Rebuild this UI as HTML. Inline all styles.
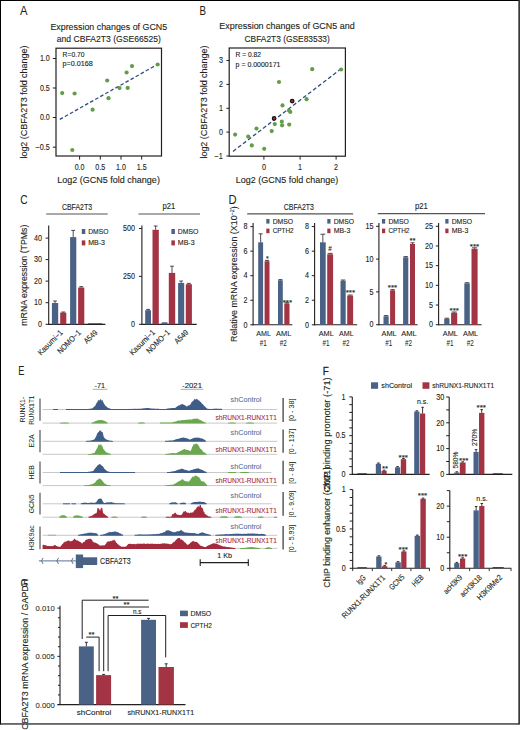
<!DOCTYPE html>
<html><head><meta charset="utf-8"><style>
html,body{margin:0;padding:0;background:#fff;}
svg{display:block;}
text{font-family:"Liberation Sans", sans-serif;}
</style></head><body>
<svg width="520" height="730" viewBox="0 0 520 730" fill="#231f20" font-family='"Liberation Sans", sans-serif'>
<rect x="0" y="0" width="520" height="730" fill="#fff"/>
<text x="20" y="15.2" font-size="12.2" stroke="#231f20" stroke-width="0.05" textLength="7.5" lengthAdjust="spacingAndGlyphs">A</text>
<text x="108.8" y="29.8" font-size="9.6" stroke="#231f20" stroke-width="0.12" text-anchor="middle" textLength="116.8" lengthAdjust="spacingAndGlyphs">Expression changes of GCN5</text>
<text x="108.9" y="41.5" font-size="9.6" stroke="#231f20" stroke-width="0.12" text-anchor="middle" textLength="104.2" lengthAdjust="spacingAndGlyphs">and CBFA2T3 (GSE66525)</text>
<rect x="56" y="48.2" width="105.5" height="107.8" fill="none" stroke="#231f20" stroke-width="1.2"/>
<line x1="52.8" y1="58.5" x2="56" y2="58.5" stroke="#231f20" stroke-width="1"/>
<text x="49.8" y="61.2" font-size="8.4" stroke="#231f20" stroke-width="0.12" text-anchor="end" textLength="9.9" lengthAdjust="spacingAndGlyphs">1.0</text>
<line x1="52.8" y1="88" x2="56" y2="88" stroke="#231f20" stroke-width="1"/>
<text x="49.8" y="90.7" font-size="8.4" stroke="#231f20" stroke-width="0.12" text-anchor="end" textLength="9.9" lengthAdjust="spacingAndGlyphs">0.5</text>
<line x1="52.8" y1="117.5" x2="56" y2="117.5" stroke="#231f20" stroke-width="1"/>
<text x="49.8" y="120.2" font-size="8.4" stroke="#231f20" stroke-width="0.12" text-anchor="end" textLength="9.9" lengthAdjust="spacingAndGlyphs">0.0</text>
<line x1="52.8" y1="147.2" x2="56" y2="147.2" stroke="#231f20" stroke-width="1"/>
<text x="49.8" y="149.9" font-size="8.4" stroke="#231f20" stroke-width="0.12" text-anchor="end" textLength="14.2" lengthAdjust="spacingAndGlyphs">−0.5</text>
<line x1="79.6" y1="156" x2="79.6" y2="159.6" stroke="#231f20" stroke-width="1"/>
<text x="79.6" y="169.8" font-size="8.4" stroke="#231f20" stroke-width="0.12" text-anchor="middle" textLength="9.9" lengthAdjust="spacingAndGlyphs">0.0</text>
<line x1="100.3" y1="156" x2="100.3" y2="159.6" stroke="#231f20" stroke-width="1"/>
<text x="100.3" y="169.8" font-size="8.4" stroke="#231f20" stroke-width="0.12" text-anchor="middle" textLength="9.9" lengthAdjust="spacingAndGlyphs">0.5</text>
<line x1="121" y1="156" x2="121" y2="159.6" stroke="#231f20" stroke-width="1"/>
<text x="121" y="169.8" font-size="8.4" stroke="#231f20" stroke-width="0.12" text-anchor="middle" textLength="9.9" lengthAdjust="spacingAndGlyphs">1.0</text>
<line x1="141.7" y1="156" x2="141.7" y2="159.6" stroke="#231f20" stroke-width="1"/>
<text x="141.7" y="169.8" font-size="8.4" stroke="#231f20" stroke-width="0.12" text-anchor="middle" textLength="9.9" lengthAdjust="spacingAndGlyphs">1.5</text>
<text x="108.55" y="183.2" font-size="9" stroke="#231f20" stroke-width="0.12" text-anchor="middle" textLength="102.7" lengthAdjust="spacingAndGlyphs">Log2 (GCN5 fold change)</text>
<text transform="translate(26.9,102.05) rotate(-90)" font-size="9" stroke="#231f20" stroke-width="0.12" text-anchor="middle" textLength="113.1" lengthAdjust="spacingAndGlyphs">log2 (CBFA2T3 fold change)</text>
<text x="62.6" y="57.1" font-size="6.6" stroke="#231f20" stroke-width="0.12" textLength="21.9" lengthAdjust="spacingAndGlyphs">R=0.70</text>
<text x="62.6" y="66.3" font-size="6.6" stroke="#231f20" stroke-width="0.12" textLength="30.2" lengthAdjust="spacingAndGlyphs">p=0.0168</text>
<line x1="59.8" y1="119.4" x2="157" y2="64.7" stroke="#2f4d7e" stroke-width="1.3" stroke-dasharray="3.6 2.2"/>
<circle cx="62.2" cy="93.1" r="2.1" fill="#629e48"/>
<circle cx="74.6" cy="93.5" r="2.1" fill="#629e48"/>
<circle cx="92.6" cy="109.7" r="2.1" fill="#629e48"/>
<circle cx="107.2" cy="80.5" r="2.1" fill="#629e48"/>
<circle cx="108.5" cy="98.2" r="2.1" fill="#629e48"/>
<circle cx="119.5" cy="88.1" r="2.1" fill="#629e48"/>
<circle cx="127.7" cy="87.9" r="2.1" fill="#629e48"/>
<circle cx="126.6" cy="72.5" r="2.1" fill="#629e48"/>
<circle cx="132" cy="66.1" r="2.1" fill="#629e48"/>
<circle cx="157.7" cy="64.5" r="2.1" fill="#629e48"/>
<circle cx="72.3" cy="150" r="2.1" fill="#629e48"/>
<text x="199.6" y="14.9" font-size="12.2" stroke="#231f20" stroke-width="0.05" textLength="6.5" lengthAdjust="spacingAndGlyphs">B</text>
<text x="287" y="29.4" font-size="9.6" stroke="#231f20" stroke-width="0.12" text-anchor="middle" textLength="135.4" lengthAdjust="spacingAndGlyphs">Expression changes of GCN5 and</text>
<text x="287.15" y="41.5" font-size="9.6" stroke="#231f20" stroke-width="0.12" text-anchor="middle" textLength="85.3" lengthAdjust="spacingAndGlyphs">CBFA2T3 (GSE83533)</text>
<rect x="229.2" y="48" width="116.2" height="108.2" fill="none" stroke="#231f20" stroke-width="1.2"/>
<line x1="226.4" y1="60.5" x2="229.2" y2="60.5" stroke="#231f20" stroke-width="1"/>
<text x="222.9" y="63.2" font-size="8.4" stroke="#231f20" stroke-width="0.12" text-anchor="end" textLength="4" lengthAdjust="spacingAndGlyphs">3</text>
<line x1="226.4" y1="84.4" x2="229.2" y2="84.4" stroke="#231f20" stroke-width="1"/>
<text x="222.9" y="87.1" font-size="8.4" stroke="#231f20" stroke-width="0.12" text-anchor="end" textLength="4" lengthAdjust="spacingAndGlyphs">2</text>
<line x1="226.4" y1="108.3" x2="229.2" y2="108.3" stroke="#231f20" stroke-width="1"/>
<text x="222.9" y="111" font-size="8.4" stroke="#231f20" stroke-width="0.12" text-anchor="end" textLength="4" lengthAdjust="spacingAndGlyphs">1</text>
<line x1="226.4" y1="132.1" x2="229.2" y2="132.1" stroke="#231f20" stroke-width="1"/>
<text x="222.9" y="134.8" font-size="8.4" stroke="#231f20" stroke-width="0.12" text-anchor="end" textLength="4" lengthAdjust="spacingAndGlyphs">0</text>
<line x1="226.4" y1="156" x2="229.2" y2="156" stroke="#231f20" stroke-width="1"/>
<text x="222.9" y="158.7" font-size="8.4" stroke="#231f20" stroke-width="0.12" text-anchor="end" textLength="8.3" lengthAdjust="spacingAndGlyphs">−1</text>
<line x1="263.9" y1="156.2" x2="263.9" y2="159.6" stroke="#231f20" stroke-width="1"/>
<text x="263.9" y="170.2" font-size="8.4" stroke="#231f20" stroke-width="0.12" text-anchor="middle" textLength="4" lengthAdjust="spacingAndGlyphs">0</text>
<line x1="300.1" y1="156.2" x2="300.1" y2="159.6" stroke="#231f20" stroke-width="1"/>
<text x="300.1" y="170.2" font-size="8.4" stroke="#231f20" stroke-width="0.12" text-anchor="middle" textLength="4" lengthAdjust="spacingAndGlyphs">1</text>
<line x1="336.1" y1="156.2" x2="336.1" y2="159.6" stroke="#231f20" stroke-width="1"/>
<text x="336.1" y="170.2" font-size="8.4" stroke="#231f20" stroke-width="0.12" text-anchor="middle" textLength="4" lengthAdjust="spacingAndGlyphs">2</text>
<text x="287.05" y="183.2" font-size="9" stroke="#231f20" stroke-width="0.12" text-anchor="middle" textLength="102.5" lengthAdjust="spacingAndGlyphs">Log2 (GCN5 fold change)</text>
<text transform="translate(206.6,102.05) rotate(-90)" font-size="9" stroke="#231f20" stroke-width="0.12" text-anchor="middle" textLength="113.1" lengthAdjust="spacingAndGlyphs">log2 (CBFA2T3 fold change)</text>
<text x="235.6" y="57.2" font-size="6.6" stroke="#231f20" stroke-width="0.12" textLength="25.4" lengthAdjust="spacingAndGlyphs">R = 0.82</text>
<text x="235.6" y="66.5" font-size="6.6" stroke="#231f20" stroke-width="0.12" textLength="44.8" lengthAdjust="spacingAndGlyphs">p = 0.0000171</text>
<line x1="233.0" y1="151.4" x2="339.8" y2="69.8" stroke="#2f4d7e" stroke-width="1.3" stroke-dasharray="3.9 2.4"/>
<circle cx="235.1" cy="134.6" r="2.1" fill="#629e48"/>
<circle cx="248.2" cy="136.6" r="2.1" fill="#629e48"/>
<circle cx="251.8" cy="145.4" r="2.1" fill="#629e48"/>
<circle cx="256.5" cy="128.6" r="2.1" fill="#629e48"/>
<circle cx="264.2" cy="148.8" r="2.1" fill="#629e48"/>
<circle cx="271.7" cy="131.1" r="2.1" fill="#629e48"/>
<circle cx="274.8" cy="124.1" r="2.1" fill="#629e48"/>
<circle cx="281.8" cy="121.7" r="2.1" fill="#629e48"/>
<circle cx="282.1" cy="125.3" r="2.1" fill="#629e48"/>
<circle cx="289.2" cy="124.6" r="2.1" fill="#629e48"/>
<circle cx="282.5" cy="105.4" r="2.1" fill="#629e48"/>
<circle cx="289" cy="110.5" r="2.1" fill="#629e48"/>
<circle cx="290.3" cy="112" r="2.1" fill="#629e48"/>
<circle cx="279" cy="82" r="2.1" fill="#629e48"/>
<circle cx="306.6" cy="99.2" r="2.1" fill="#629e48"/>
<circle cx="312.2" cy="69.2" r="2.1" fill="#629e48"/>
<circle cx="341.1" cy="69.5" r="2.1" fill="#629e48"/>
<circle cx="274.1" cy="118.4" r="1.75" fill="#c41e3a" stroke="#111" stroke-width="1.2"/>
<circle cx="292.2" cy="101.1" r="1.75" fill="#c41e3a" stroke="#111" stroke-width="1.2"/>
<text x="20.2" y="204.4" font-size="12.2" stroke="#231f20" stroke-width="0.05" textLength="7.4" lengthAdjust="spacingAndGlyphs">C</text>
<text x="77" y="209.6" font-size="8.2" stroke="#231f20" stroke-width="0.12" text-anchor="middle" textLength="30.2" lengthAdjust="spacingAndGlyphs">CBFA2T3</text>
<line x1="46.2" y1="214" x2="107.7" y2="214" stroke="#555" stroke-width="1.2"/>
<text x="168.85" y="209.3" font-size="8.2" stroke="#231f20" stroke-width="0.12" text-anchor="middle" textLength="12.7" lengthAdjust="spacingAndGlyphs">p21</text>
<line x1="138.5" y1="214" x2="200" y2="214" stroke="#555" stroke-width="1.2"/>
<text transform="translate(26.5,275.2) rotate(-90)" font-size="9" stroke="#231f20" stroke-width="0.12" text-anchor="middle" textLength="101" lengthAdjust="spacingAndGlyphs">mRNA expression (TPMs)</text>
<line x1="48.7" y1="225.6" x2="48.7" y2="324.9" stroke="#231f20" stroke-width="1.1"/>
<line x1="48.2" y1="324.4" x2="105.4" y2="324.4" stroke="#231f20" stroke-width="1.1"/>
<line x1="45.6" y1="238.1" x2="48.7" y2="238.1" stroke="#231f20" stroke-width="1"/>
<text x="42.1" y="240.8" font-size="8.4" stroke="#231f20" stroke-width="0.12" text-anchor="end" textLength="8" lengthAdjust="spacingAndGlyphs">40</text>
<line x1="45.6" y1="259.6" x2="48.7" y2="259.6" stroke="#231f20" stroke-width="1"/>
<text x="42.1" y="262.3" font-size="8.4" stroke="#231f20" stroke-width="0.12" text-anchor="end" textLength="8" lengthAdjust="spacingAndGlyphs">30</text>
<line x1="45.6" y1="281.1" x2="48.7" y2="281.1" stroke="#231f20" stroke-width="1"/>
<text x="42.1" y="283.8" font-size="8.4" stroke="#231f20" stroke-width="0.12" text-anchor="end" textLength="8" lengthAdjust="spacingAndGlyphs">20</text>
<line x1="45.6" y1="302.7" x2="48.7" y2="302.7" stroke="#231f20" stroke-width="1"/>
<text x="42.1" y="305.4" font-size="8.4" stroke="#231f20" stroke-width="0.12" text-anchor="end" textLength="8" lengthAdjust="spacingAndGlyphs">10</text>
<line x1="45.6" y1="324.3" x2="48.7" y2="324.3" stroke="#231f20" stroke-width="1"/>
<text x="42.1" y="327" font-size="8.4" stroke="#231f20" stroke-width="0.12" text-anchor="end" textLength="4" lengthAdjust="spacingAndGlyphs">0</text>
<rect x="51.9" y="303" width="6.3" height="21.4" fill="#4a6285"/>
<line x1="55.05" y1="303" x2="55.05" y2="301" stroke="#231f20" stroke-width="0.8"/>
<line x1="53.15" y1="301" x2="56.95" y2="301" stroke="#231f20" stroke-width="0.8"/>
<rect x="60.2" y="312.6" width="6.1" height="11.8" fill="#a33444"/>
<line x1="63.25" y1="312.6" x2="63.25" y2="312" stroke="#231f20" stroke-width="0.8"/>
<line x1="61.35" y1="312" x2="65.15" y2="312" stroke="#231f20" stroke-width="0.8"/>
<rect x="70.1" y="237.1" width="6.2" height="87.3" fill="#4a6285"/>
<line x1="73.2" y1="237.1" x2="73.2" y2="230.4" stroke="#231f20" stroke-width="0.8"/>
<line x1="71.3" y1="230.4" x2="75.1" y2="230.4" stroke="#231f20" stroke-width="0.8"/>
<rect x="78.1" y="287.5" width="6.2" height="36.9" fill="#a33444"/>
<line x1="81.2" y1="287.5" x2="81.2" y2="286.6" stroke="#231f20" stroke-width="0.8"/>
<line x1="79.3" y1="286.6" x2="83.1" y2="286.6" stroke="#231f20" stroke-width="0.8"/>
<line x1="88" y1="323.9" x2="102.2" y2="323.9" stroke="#222" stroke-width="0.9"/>
<rect x="81.8" y="229" width="3.5" height="5" fill="#4a6285"/>
<rect x="81.8" y="240.4" width="3.5" height="5" fill="#a33444"/>
<text x="88.2" y="234" font-size="7" stroke="#231f20" stroke-width="0.12" textLength="20.2" lengthAdjust="spacingAndGlyphs">DMSO</text>
<text x="88.2" y="245.4" font-size="7" stroke="#231f20" stroke-width="0.12" textLength="16.8" lengthAdjust="spacingAndGlyphs">MB-3</text>
<text transform="translate(63.4,333.3) rotate(-45)" font-size="8" stroke="#231f20" stroke-width="0.12" text-anchor="end" textLength="31.8" lengthAdjust="spacingAndGlyphs">Kasumi−1</text>
<text transform="translate(81.4,333.3) rotate(-45)" font-size="8" stroke="#231f20" stroke-width="0.12" text-anchor="end" textLength="29.7" lengthAdjust="spacingAndGlyphs">NOMO−1</text>
<text transform="translate(98,333.3) rotate(-45)" font-size="8" stroke="#231f20" stroke-width="0.12" text-anchor="end" textLength="15.6" lengthAdjust="spacingAndGlyphs">A549</text>
<line x1="141.9" y1="225.6" x2="141.9" y2="324.9" stroke="#231f20" stroke-width="1.1"/>
<line x1="141.4" y1="324.4" x2="196.7" y2="324.4" stroke="#231f20" stroke-width="1.1"/>
<line x1="139" y1="228.5" x2="141.9" y2="228.5" stroke="#231f20" stroke-width="1"/>
<text x="135" y="231.2" font-size="8.4" stroke="#231f20" stroke-width="0.12" text-anchor="end" textLength="12" lengthAdjust="spacingAndGlyphs">500</text>
<line x1="139" y1="276.4" x2="141.9" y2="276.4" stroke="#231f20" stroke-width="1"/>
<text x="135" y="279.1" font-size="8.4" stroke="#231f20" stroke-width="0.12" text-anchor="end" textLength="12" lengthAdjust="spacingAndGlyphs">250</text>
<line x1="139" y1="324.3" x2="141.9" y2="324.3" stroke="#231f20" stroke-width="1"/>
<text x="135" y="327" font-size="8.4" stroke="#231f20" stroke-width="0.12" text-anchor="end" textLength="4" lengthAdjust="spacingAndGlyphs">0</text>
<rect x="145.2" y="310.2" width="5.8" height="14.2" fill="#4a6285"/>
<line x1="148.1" y1="310.2" x2="148.1" y2="309.4" stroke="#231f20" stroke-width="0.8"/>
<line x1="146.2" y1="309.4" x2="150" y2="309.4" stroke="#231f20" stroke-width="0.8"/>
<rect x="152.5" y="229.8" width="6.3" height="94.6" fill="#a33444"/>
<line x1="155.65" y1="229.8" x2="155.65" y2="226" stroke="#231f20" stroke-width="0.8"/>
<line x1="153.75" y1="226" x2="157.55" y2="226" stroke="#231f20" stroke-width="0.8"/>
<rect x="161.7" y="322.3" width="5.8" height="2.1" fill="#4a6285"/>
<rect x="168.8" y="272.9" width="6.4" height="51.5" fill="#a33444"/>
<line x1="172" y1="272.9" x2="172" y2="266.2" stroke="#231f20" stroke-width="0.8"/>
<line x1="170.1" y1="266.2" x2="173.9" y2="266.2" stroke="#231f20" stroke-width="0.8"/>
<rect x="178.1" y="282.9" width="6.1" height="41.5" fill="#4a6285"/>
<line x1="181.15" y1="282.9" x2="181.15" y2="281" stroke="#231f20" stroke-width="0.8"/>
<line x1="179.25" y1="281" x2="183.05" y2="281" stroke="#231f20" stroke-width="0.8"/>
<rect x="185.8" y="284.2" width="6.1" height="40.2" fill="#a33444"/>
<line x1="188.85" y1="284.2" x2="188.85" y2="283.4" stroke="#231f20" stroke-width="0.8"/>
<line x1="186.95" y1="283.4" x2="190.75" y2="283.4" stroke="#231f20" stroke-width="0.8"/>
<rect x="171.4" y="229" width="3.5" height="5" fill="#4a6285"/>
<rect x="171.4" y="240.4" width="3.5" height="5" fill="#a33444"/>
<text x="177.8" y="234" font-size="7" stroke="#231f20" stroke-width="0.12" textLength="20.6" lengthAdjust="spacingAndGlyphs">DMSO</text>
<text x="177.8" y="245.4" font-size="7" stroke="#231f20" stroke-width="0.12" textLength="16.8" lengthAdjust="spacingAndGlyphs">MB-3</text>
<text transform="translate(155.5,333) rotate(-45)" font-size="8" stroke="#231f20" stroke-width="0.12" text-anchor="end" textLength="32.3" lengthAdjust="spacingAndGlyphs">Kasumi−1</text>
<text transform="translate(170.5,333) rotate(-45)" font-size="8" stroke="#231f20" stroke-width="0.12" text-anchor="end" textLength="29.7" lengthAdjust="spacingAndGlyphs">NOMO−1</text>
<text transform="translate(189.1,333) rotate(-45)" font-size="8" stroke="#231f20" stroke-width="0.12" text-anchor="end" textLength="16.4" lengthAdjust="spacingAndGlyphs">A549</text>
<text x="228.4" y="203.8" font-size="12.2" stroke="#231f20" stroke-width="0.05" textLength="8.1" lengthAdjust="spacingAndGlyphs">D</text>
<text x="298.9" y="210" font-size="8.2" stroke="#231f20" stroke-width="0.12" text-anchor="middle" textLength="30.2" lengthAdjust="spacingAndGlyphs">CBFA2T3</text>
<line x1="247.2" y1="213.8" x2="353.1" y2="213.8" stroke="#555" stroke-width="1.2"/>
<text x="421.45" y="209.4" font-size="8.2" stroke="#231f20" stroke-width="0.12" text-anchor="middle" textLength="12.9" lengthAdjust="spacingAndGlyphs">p21</text>
<line x1="377.8" y1="213.7" x2="485" y2="213.7" stroke="#555" stroke-width="1.2"/>
<text transform="translate(237.4,274.2) rotate(-90)" font-size="9.2" stroke="#231f20" stroke-width="0.12" text-anchor="middle" textLength="135.6" lengthAdjust="spacingAndGlyphs">Relative mRNA expression (X10<tspan font-size="5.5" dy="-3.5">−2</tspan><tspan dy="3.5">)</tspan></text>
<line x1="253.1" y1="222.9" x2="253.1" y2="325.3" stroke="#231f20" stroke-width="1.1"/>
<line x1="252.6" y1="324.8" x2="292.3" y2="324.8" stroke="#231f20" stroke-width="1.1"/>
<line x1="250.3" y1="226.6" x2="253.1" y2="226.6" stroke="#231f20" stroke-width="1"/>
<text x="247.6" y="229.3" font-size="8.4" stroke="#231f20" stroke-width="0.12" text-anchor="end" textLength="4" lengthAdjust="spacingAndGlyphs">8</text>
<line x1="250.3" y1="251.15" x2="253.1" y2="251.15" stroke="#231f20" stroke-width="1"/>
<text x="247.6" y="253.85" font-size="8.4" stroke="#231f20" stroke-width="0.12" text-anchor="end" textLength="4" lengthAdjust="spacingAndGlyphs">6</text>
<line x1="250.3" y1="275.7" x2="253.1" y2="275.7" stroke="#231f20" stroke-width="1"/>
<text x="247.6" y="278.4" font-size="8.4" stroke="#231f20" stroke-width="0.12" text-anchor="end" textLength="4" lengthAdjust="spacingAndGlyphs">4</text>
<line x1="250.3" y1="300.25" x2="253.1" y2="300.25" stroke="#231f20" stroke-width="1"/>
<text x="247.6" y="302.95" font-size="8.4" stroke="#231f20" stroke-width="0.12" text-anchor="end" textLength="4" lengthAdjust="spacingAndGlyphs">2</text>
<line x1="250.3" y1="324.8" x2="253.1" y2="324.8" stroke="#231f20" stroke-width="1"/>
<text x="247.6" y="327.5" font-size="8.4" stroke="#231f20" stroke-width="0.12" text-anchor="end" textLength="4" lengthAdjust="spacingAndGlyphs">0</text>
<rect x="258.2" y="242.3" width="4.9" height="82.5" fill="#4a6285"/>
<line x1="260.65" y1="242.3" x2="260.65" y2="233.8" stroke="#231f20" stroke-width="0.8"/>
<line x1="258.57" y1="233.8" x2="262.73" y2="233.8" stroke="#231f20" stroke-width="0.8"/>
<rect x="264.6" y="261.2" width="4.9" height="63.6" fill="#a33444"/>
<line x1="267.05" y1="261.2" x2="267.05" y2="260.4" stroke="#231f20" stroke-width="0.8"/>
<line x1="264.97" y1="260.4" x2="269.13" y2="260.4" stroke="#231f20" stroke-width="0.8"/>
<rect x="278" y="280.3" width="4.8" height="44.5" fill="#4a6285"/>
<line x1="280.4" y1="280.3" x2="280.4" y2="279.6" stroke="#231f20" stroke-width="0.8"/>
<line x1="278.36" y1="279.6" x2="282.44" y2="279.6" stroke="#231f20" stroke-width="0.8"/>
<rect x="284.3" y="303.5" width="5.2" height="21.3" fill="#a33444"/>
<line x1="286.9" y1="303.5" x2="286.9" y2="302.8" stroke="#231f20" stroke-width="0.8"/>
<line x1="284.69" y1="302.8" x2="289.11" y2="302.8" stroke="#231f20" stroke-width="0.8"/>
<rect x="266.3" y="219" width="3.2" height="4.6" fill="#4a6285"/>
<rect x="266.3" y="228.6" width="3.2" height="4.6" fill="#a33444"/>
<text x="272.7" y="223.6" font-size="7" stroke="#231f20" stroke-width="0.12" textLength="20.4" lengthAdjust="spacingAndGlyphs">DMSO</text>
<text x="272.7" y="233.2" font-size="7" stroke="#231f20" stroke-width="0.12" textLength="21" lengthAdjust="spacingAndGlyphs">CPTH2</text>
<text x="267.3" y="260.8" font-size="7" stroke="#231f20" stroke-width="0.12" text-anchor="middle">*</text>
<text x="287.4" y="304.7" font-size="7" stroke="#231f20" stroke-width="0.12" text-anchor="middle" textLength="9.4" lengthAdjust="spacingAndGlyphs">***</text>
<text x="263.65" y="335.9" font-size="8" stroke="#231f20" stroke-width="0.1" text-anchor="middle" textLength="14.7" lengthAdjust="spacingAndGlyphs">AML</text>
<text x="283.65" y="335.9" font-size="8" stroke="#231f20" stroke-width="0.1" text-anchor="middle" textLength="15.3" lengthAdjust="spacingAndGlyphs">AML</text>
<text x="263.35" y="345.9" font-size="8.6" stroke="#231f20" stroke-width="0.05" text-anchor="middle" textLength="7" lengthAdjust="spacingAndGlyphs">#1</text>
<text x="283.35" y="345.9" font-size="8.6" stroke="#231f20" stroke-width="0.05" text-anchor="middle" textLength="7" lengthAdjust="spacingAndGlyphs">#2</text>
<line x1="314.6" y1="222.9" x2="314.6" y2="325.3" stroke="#231f20" stroke-width="1.1"/>
<line x1="314.1" y1="324.8" x2="357.2" y2="324.8" stroke="#231f20" stroke-width="1.1"/>
<line x1="311.8" y1="226.6" x2="314.6" y2="226.6" stroke="#231f20" stroke-width="1"/>
<text x="309.1" y="229.3" font-size="8.4" stroke="#231f20" stroke-width="0.12" text-anchor="end" textLength="4" lengthAdjust="spacingAndGlyphs">8</text>
<line x1="311.8" y1="251.15" x2="314.6" y2="251.15" stroke="#231f20" stroke-width="1"/>
<text x="309.1" y="253.85" font-size="8.4" stroke="#231f20" stroke-width="0.12" text-anchor="end" textLength="4" lengthAdjust="spacingAndGlyphs">6</text>
<line x1="311.8" y1="275.7" x2="314.6" y2="275.7" stroke="#231f20" stroke-width="1"/>
<text x="309.1" y="278.4" font-size="8.4" stroke="#231f20" stroke-width="0.12" text-anchor="end" textLength="4" lengthAdjust="spacingAndGlyphs">4</text>
<line x1="311.8" y1="300.25" x2="314.6" y2="300.25" stroke="#231f20" stroke-width="1"/>
<text x="309.1" y="302.95" font-size="8.4" stroke="#231f20" stroke-width="0.12" text-anchor="end" textLength="4" lengthAdjust="spacingAndGlyphs">2</text>
<line x1="311.8" y1="324.8" x2="314.6" y2="324.8" stroke="#231f20" stroke-width="1"/>
<text x="309.1" y="327.5" font-size="8.4" stroke="#231f20" stroke-width="0.12" text-anchor="end" textLength="4" lengthAdjust="spacingAndGlyphs">0</text>
<rect x="320" y="242.3" width="5.7" height="82.5" fill="#4a6285"/>
<line x1="322.85" y1="242.3" x2="322.85" y2="234.2" stroke="#231f20" stroke-width="0.8"/>
<line x1="320.43" y1="234.2" x2="325.27" y2="234.2" stroke="#231f20" stroke-width="0.8"/>
<rect x="327.2" y="254.3" width="5.9" height="70.5" fill="#a33444"/>
<line x1="330.15" y1="254.3" x2="330.15" y2="253.4" stroke="#231f20" stroke-width="0.8"/>
<line x1="327.64" y1="253.4" x2="332.66" y2="253.4" stroke="#231f20" stroke-width="0.8"/>
<rect x="340.5" y="280.8" width="5.2" height="44" fill="#4a6285"/>
<line x1="343.1" y1="280.8" x2="343.1" y2="280" stroke="#231f20" stroke-width="0.8"/>
<line x1="340.89" y1="280" x2="345.31" y2="280" stroke="#231f20" stroke-width="0.8"/>
<rect x="347.2" y="295.7" width="5.9" height="29.1" fill="#a33444"/>
<line x1="350.15" y1="295.7" x2="350.15" y2="295" stroke="#231f20" stroke-width="0.8"/>
<line x1="347.64" y1="295" x2="352.66" y2="295" stroke="#231f20" stroke-width="0.8"/>
<rect x="327.3" y="219" width="3.2" height="4.6" fill="#4a6285"/>
<rect x="327.3" y="228.6" width="3.2" height="4.6" fill="#a33444"/>
<text x="333.7" y="223.6" font-size="7" stroke="#231f20" stroke-width="0.12" textLength="20.4" lengthAdjust="spacingAndGlyphs">DMSO</text>
<text x="333.7" y="233.2" font-size="7" stroke="#231f20" stroke-width="0.12" textLength="16.6" lengthAdjust="spacingAndGlyphs">MB-3</text>
<text x="330.1" y="250.9" font-size="6.3" stroke="#231f20" stroke-width="0.12" text-anchor="middle">#</text>
<text x="350.4" y="295.4" font-size="7" stroke="#231f20" stroke-width="0.12" text-anchor="middle" textLength="9.4" lengthAdjust="spacingAndGlyphs">***</text>
<text x="326.2" y="335.9" font-size="8" stroke="#231f20" stroke-width="0.1" text-anchor="middle" textLength="15" lengthAdjust="spacingAndGlyphs">AML</text>
<text x="346.3" y="335.9" font-size="8" stroke="#231f20" stroke-width="0.1" text-anchor="middle" textLength="14.6" lengthAdjust="spacingAndGlyphs">AML</text>
<text x="325.9" y="345.9" font-size="8.6" stroke="#231f20" stroke-width="0.05" text-anchor="middle" textLength="7" lengthAdjust="spacingAndGlyphs">#1</text>
<text x="346" y="345.9" font-size="8.6" stroke="#231f20" stroke-width="0.05" text-anchor="middle" textLength="7" lengthAdjust="spacingAndGlyphs">#2</text>
<line x1="378.9" y1="222.9" x2="378.9" y2="325.3" stroke="#231f20" stroke-width="1.1"/>
<line x1="378.4" y1="324.8" x2="417.6" y2="324.8" stroke="#231f20" stroke-width="1.1"/>
<line x1="376.1" y1="226.3" x2="378.9" y2="226.3" stroke="#231f20" stroke-width="1"/>
<text x="373.4" y="229" font-size="8.4" stroke="#231f20" stroke-width="0.12" text-anchor="end" textLength="8" lengthAdjust="spacingAndGlyphs">15</text>
<line x1="376.1" y1="259.1" x2="378.9" y2="259.1" stroke="#231f20" stroke-width="1"/>
<text x="373.4" y="261.8" font-size="8.4" stroke="#231f20" stroke-width="0.12" text-anchor="end" textLength="8" lengthAdjust="spacingAndGlyphs">10</text>
<line x1="376.1" y1="291.9" x2="378.9" y2="291.9" stroke="#231f20" stroke-width="1"/>
<text x="373.4" y="294.6" font-size="8.4" stroke="#231f20" stroke-width="0.12" text-anchor="end" textLength="4" lengthAdjust="spacingAndGlyphs">5</text>
<line x1="376.1" y1="324.7" x2="378.9" y2="324.7" stroke="#231f20" stroke-width="1"/>
<text x="373.4" y="327.4" font-size="8.4" stroke="#231f20" stroke-width="0.12" text-anchor="end" textLength="4" lengthAdjust="spacingAndGlyphs">0</text>
<rect x="383.5" y="316.3" width="5.2" height="8.5" fill="#4a6285"/>
<line x1="386.1" y1="316.3" x2="386.1" y2="315.6" stroke="#231f20" stroke-width="0.8"/>
<line x1="383.89" y1="315.6" x2="388.31" y2="315.6" stroke="#231f20" stroke-width="0.8"/>
<rect x="390.1" y="290.3" width="5" height="34.5" fill="#a33444"/>
<line x1="392.6" y1="290.3" x2="392.6" y2="289.6" stroke="#231f20" stroke-width="0.8"/>
<line x1="390.48" y1="289.6" x2="394.73" y2="289.6" stroke="#231f20" stroke-width="0.8"/>
<rect x="403.1" y="257.3" width="5.2" height="67.5" fill="#4a6285"/>
<line x1="405.7" y1="257.3" x2="405.7" y2="256.6" stroke="#231f20" stroke-width="0.8"/>
<line x1="403.49" y1="256.6" x2="407.91" y2="256.6" stroke="#231f20" stroke-width="0.8"/>
<rect x="410" y="244" width="5" height="80.8" fill="#a33444"/>
<line x1="412.5" y1="244" x2="412.5" y2="242.8" stroke="#231f20" stroke-width="0.8"/>
<line x1="410.38" y1="242.8" x2="414.62" y2="242.8" stroke="#231f20" stroke-width="0.8"/>
<rect x="382" y="219" width="3.2" height="4.6" fill="#4a6285"/>
<rect x="382" y="228.6" width="3.2" height="4.6" fill="#a33444"/>
<text x="388.4" y="223.6" font-size="7" stroke="#231f20" stroke-width="0.12" textLength="20.4" lengthAdjust="spacingAndGlyphs">DMSO</text>
<text x="388.4" y="233.2" font-size="7" stroke="#231f20" stroke-width="0.12" textLength="21" lengthAdjust="spacingAndGlyphs">CPTH2</text>
<text x="392.5" y="290.3" font-size="7" stroke="#231f20" stroke-width="0.12" text-anchor="middle" textLength="9.4" lengthAdjust="spacingAndGlyphs">***</text>
<text x="412.5" y="243.2" font-size="7" stroke="#231f20" stroke-width="0.12" text-anchor="middle" textLength="6" lengthAdjust="spacingAndGlyphs">**</text>
<text x="389.15" y="335.9" font-size="8" stroke="#231f20" stroke-width="0.1" text-anchor="middle" textLength="15.1" lengthAdjust="spacingAndGlyphs">AML</text>
<text x="408.9" y="335.9" font-size="8" stroke="#231f20" stroke-width="0.1" text-anchor="middle" textLength="15.4" lengthAdjust="spacingAndGlyphs">AML</text>
<text x="388.85" y="345.9" font-size="8.6" stroke="#231f20" stroke-width="0.05" text-anchor="middle" textLength="7" lengthAdjust="spacingAndGlyphs">#1</text>
<text x="408.6" y="345.9" font-size="8.6" stroke="#231f20" stroke-width="0.05" text-anchor="middle" textLength="7" lengthAdjust="spacingAndGlyphs">#2</text>
<line x1="438.6" y1="222.9" x2="438.6" y2="325.3" stroke="#231f20" stroke-width="1.1"/>
<line x1="438.1" y1="324.8" x2="481.6" y2="324.8" stroke="#231f20" stroke-width="1.1"/>
<line x1="435.8" y1="226.3" x2="438.6" y2="226.3" stroke="#231f20" stroke-width="1"/>
<text x="433.1" y="229" font-size="8.4" stroke="#231f20" stroke-width="0.12" text-anchor="end" textLength="8" lengthAdjust="spacingAndGlyphs">25</text>
<line x1="435.8" y1="245.98" x2="438.6" y2="245.98" stroke="#231f20" stroke-width="1"/>
<text x="433.1" y="248.68" font-size="8.4" stroke="#231f20" stroke-width="0.12" text-anchor="end" textLength="8" lengthAdjust="spacingAndGlyphs">20</text>
<line x1="435.8" y1="265.66" x2="438.6" y2="265.66" stroke="#231f20" stroke-width="1"/>
<text x="433.1" y="268.36" font-size="8.4" stroke="#231f20" stroke-width="0.12" text-anchor="end" textLength="8" lengthAdjust="spacingAndGlyphs">15</text>
<line x1="435.8" y1="285.34" x2="438.6" y2="285.34" stroke="#231f20" stroke-width="1"/>
<text x="433.1" y="288.04" font-size="8.4" stroke="#231f20" stroke-width="0.12" text-anchor="end" textLength="8" lengthAdjust="spacingAndGlyphs">10</text>
<line x1="435.8" y1="305.02" x2="438.6" y2="305.02" stroke="#231f20" stroke-width="1"/>
<text x="433.1" y="307.72" font-size="8.4" stroke="#231f20" stroke-width="0.12" text-anchor="end" textLength="4" lengthAdjust="spacingAndGlyphs">5</text>
<line x1="435.8" y1="324.7" x2="438.6" y2="324.7" stroke="#231f20" stroke-width="1"/>
<text x="433.1" y="327.4" font-size="8.4" stroke="#231f20" stroke-width="0.12" text-anchor="end" textLength="4" lengthAdjust="spacingAndGlyphs">0</text>
<rect x="444.2" y="318.9" width="5.3" height="5.9" fill="#4a6285"/>
<line x1="446.85" y1="318.9" x2="446.85" y2="318.2" stroke="#231f20" stroke-width="0.8"/>
<line x1="444.6" y1="318.2" x2="449.1" y2="318.2" stroke="#231f20" stroke-width="0.8"/>
<rect x="451.1" y="312.8" width="6.1" height="12" fill="#a33444"/>
<line x1="454.15" y1="312.8" x2="454.15" y2="312" stroke="#231f20" stroke-width="0.8"/>
<line x1="451.56" y1="312" x2="456.74" y2="312" stroke="#231f20" stroke-width="0.8"/>
<rect x="464.3" y="283.4" width="5.5" height="41.4" fill="#4a6285"/>
<line x1="467.05" y1="283.4" x2="467.05" y2="282.7" stroke="#231f20" stroke-width="0.8"/>
<line x1="464.71" y1="282.7" x2="469.39" y2="282.7" stroke="#231f20" stroke-width="0.8"/>
<rect x="471.5" y="248.8" width="6.1" height="76" fill="#a33444"/>
<line x1="474.55" y1="248.8" x2="474.55" y2="247.8" stroke="#231f20" stroke-width="0.8"/>
<line x1="471.96" y1="247.8" x2="477.14" y2="247.8" stroke="#231f20" stroke-width="0.8"/>
<rect x="445.3" y="219" width="3.2" height="4.6" fill="#4a6285"/>
<rect x="445.3" y="228.6" width="3.2" height="4.6" fill="#a33444"/>
<text x="451.7" y="223.6" font-size="7" stroke="#231f20" stroke-width="0.12" textLength="20.4" lengthAdjust="spacingAndGlyphs">DMSO</text>
<text x="451.7" y="233.2" font-size="7" stroke="#231f20" stroke-width="0.12" textLength="16.6" lengthAdjust="spacingAndGlyphs">MB-3</text>
<text x="454.3" y="312.7" font-size="7" stroke="#231f20" stroke-width="0.12" text-anchor="middle" textLength="9.4" lengthAdjust="spacingAndGlyphs">***</text>
<text x="474.5" y="248.9" font-size="7" stroke="#231f20" stroke-width="0.12" text-anchor="middle" textLength="9.4" lengthAdjust="spacingAndGlyphs">***</text>
<text x="450.35" y="335.9" font-size="8" stroke="#231f20" stroke-width="0.1" text-anchor="middle" textLength="15.1" lengthAdjust="spacingAndGlyphs">AML</text>
<text x="470.55" y="335.9" font-size="8" stroke="#231f20" stroke-width="0.1" text-anchor="middle" textLength="15.1" lengthAdjust="spacingAndGlyphs">AML</text>
<text x="450.05" y="345.9" font-size="8.6" stroke="#231f20" stroke-width="0.05" text-anchor="middle" textLength="7" lengthAdjust="spacingAndGlyphs">#1</text>
<text x="470.25" y="345.9" font-size="8.6" stroke="#231f20" stroke-width="0.05" text-anchor="middle" textLength="7" lengthAdjust="spacingAndGlyphs">#2</text>
<text x="18.3" y="375.4" font-size="12.2" stroke="#231f20" stroke-width="0.05" textLength="6.2" lengthAdjust="spacingAndGlyphs">E</text>
<text x="99.75" y="387.9" font-size="7.6" stroke="#231f20" stroke-width="0.12" text-anchor="middle" textLength="10.5" lengthAdjust="spacingAndGlyphs">-71</text>
<line x1="92.8" y1="389.3" x2="107.4" y2="389.3" stroke="#aaa" stroke-width="1"/>
<text x="192.05" y="387.9" font-size="7.6" stroke="#231f20" stroke-width="0.12" text-anchor="middle" textLength="19.9" lengthAdjust="spacingAndGlyphs">-2021</text>
<line x1="180.8" y1="389.3" x2="203.3" y2="389.3" stroke="#aaa" stroke-width="1"/>
<line x1="42.6" y1="409.5" x2="277.2" y2="409.5" stroke="#c8c8c8" stroke-width="1"/>
<path d="M53,410L53,409L53.5,409L54,409L54.5,409L55,409L55.5,409L56,409L56.5,409L57,409L57.5,409L58,409L58,410Z" fill="#3f5c88"/>
<path d="M66,410L66,409L66.5,409L67,409L67.5,408.99L68,408.99L68.5,408.99L69,408.99L69.5,408.98L70,408.98L70.5,408.98L71,408.98L71.5,408.97L72,408.97L72.5,408.97L73,408.96L73.5,408.96L74,408.96L74.5,408.96L75,408.95L75.5,408.95L76,408.95L76.5,408.95L77,408.94L77.5,408.94L78,408.94L78.5,408.94L79,408.94L79.5,408.93L80,408.93L80.5,408.93L81,408.93L81.5,408.92L82,408.92L82.5,408.92L83,408.92L83.5,408.91L84,408.91L84.5,408.91L85,408.9L85.5,408.9L86,408.9L86,410Z" fill="#3f5c88"/>
<path d="M86,410L86,408.9L86.5,408.9L87,408.9L87.5,408.9L88,408.9L88.5,408.9L89,408.83L89.5,408.71L90,408.68L90.5,408.66L91,408.52L91.5,408.54L92,408.47L92.5,408.29L93,407.84L93.5,407.34L94,406.98L94.5,406.25L95,405.89L95.5,405.22L96,404.09L96.5,403.21L97,402.44L97.5,401.7L98,400.17L98.5,400.04L99,400.58L99.5,400.41L100,399.46L100.5,399.2L101,399.26L101.5,400.92L102,399.8L102.5,399.93L103,401.96L103.5,402.28L104,403.99L104.5,403.97L105,405.37L105.5,406.02L106,406.04L106.5,406.58L107,407.14L107.5,407.56L108,407.83L108.5,408.01L109,408.04L109.5,408.39L110,408.61L110.5,408.73L111,408.9L111.5,408.9L112,408.9L112.5,408.9L113,408.9L113.5,408.9L114,408.9L114.5,408.9L115,408.9L115.5,408.9L116,408.9L116.5,408.9L117,408.9L117.5,408.9L118,408.9L118.5,408.9L119,408.9L119.5,408.9L120,408.9L120.5,408.9L121,408.9L121.5,408.9L122,408.9L122.5,408.9L123,408.9L123.5,408.9L124,408.9L124.5,408.9L125,408.9L125.5,408.9L126,408.9L126.5,408.9L127,408.9L127.5,408.9L128,408.9L128.5,408.93L129,408.92L129.5,408.86L130,408.9L130.5,408.92L131,408.9L131.5,408.88L132,408.82L132.5,408.85L133,408.89L133.5,408.81L134,408.88L134.5,408.82L135,408.87L135.5,408.8L136,408.84L136.5,408.88L137,408.85L137.5,408.85L138,408.81L138.5,408.85L139,408.86L139.5,408.8L140,408.79L140.5,408.69L141,408.74L141.5,408.62L142,408.6L142.5,408.48L143,408.45L143.5,408.28L144,408.26L144.5,408.32L145,408.29L145.5,408.08L146,408.18L146.5,408.02L147,408L147.5,408.01L148,407.93L148.5,408.02L149,408.09L149.5,408.27L150,408.25L150.5,408.43L151,408.44L151.5,408.5L152,408.53L152.5,408.63L153,408.52L153.5,408.58L154,408.6L154.5,408.66L155,408.73L155.5,408.76L156,408.72L156.5,408.72L157,408.75L157.5,408.82L158,408.83L158.5,408.87L159,408.81L159.5,408.88L160,408.9L160.5,408.9L161,408.9L161.5,408.9L162,408.9L162.5,408.9L163,408.9L163.5,408.9L164,408.9L164.5,408.9L165,408.9L165.5,408.9L166,408.89L166.5,408.82L167,408.67L167.5,408.58L168,408.54L168.5,408.53L169,408.34L169.5,408.28L170,408.28L170.5,408.17L171,408.14L171.5,407.97L172,408.04L172.5,407.88L173,408.1L173.5,407.91L174,407.95L174.5,408.05L175,408.12L175.5,407.67L176,407.19L176.5,407.11L177,406.56L177.5,406.21L178,405.78L178.5,405.59L179,405.47L179.5,405.54L180,404.79L180.5,404.87L181,404.29L181.5,404.22L182,404.45L182.5,404.07L183,404.1L183.5,404.79L184,404.7L184.5,405.24L185,405.27L185.5,405.62L186,406.16L186.5,406.5L187,406.29L187.5,406.27L188,405.59L188.5,405.61L189,405.5L189.5,404.89L190,405.21L190.5,404.1L191,403.39L191.5,402.28L192,401.49L192.5,401.45L193,401.32L193.5,400.38L194,399.48L194.5,398.88L195,398.71L195.5,399.8L196,399.6L196.5,398.94L197,398.61L197.5,399.87L198,399.45L198.5,400.8L199,400.11L199.5,401.06L200,401.55L200.5,401.98L201,402.08L201.5,403.2L202,403.54L202.5,403.93L203,404.57L203.5,404.78L204,405.74L204.5,406.3L205,406.45L205.5,407.11L206,407.67L206.5,407.95L207,408.47L207.5,408.84L208,408.79L208.5,408.84L209,408.88L209.5,408.89L210,408.88L210.5,408.87L211,408.89L211.5,408.89L212,408.9L212.5,408.89L213,408.81L213.5,408.75L214,408.71L214.5,408.68L215,408.62L215.5,408.66L216,408.64L216.5,408.57L217,408.69L217.5,408.71L218,408.66L218.5,408.69L219,408.76L219.5,408.83L220,408.78L220.5,408.77L221,408.85L221.5,408.87L222,408.9L222,410Z" fill="#3f5c88"/>
<line x1="42.6" y1="423.1" x2="277.2" y2="423.1" stroke="#c8c8c8" stroke-width="1"/>
<path d="M60,423.6L60,422.9L60.5,422.83L61,422.77L61.5,422.7L62,422.63L62.5,422.57L63,422.5L63.5,422.5L64,422.5L64.5,422.5L65,422.5L65.5,422.5L66,422.5L66.5,422.57L67,422.63L67.5,422.7L68,422.77L68.5,422.83L69,422.9L69,423.6Z" fill="#6aa84f"/>
<path d="M91.5,423.6L91.5,422.8L92.01,422.62L92.51,422.48L93.02,422.32L93.53,422.06L94.03,421.87L94.54,421.74L95.04,421.3L95.55,421.01L96.06,421.13L96.56,420.72L97.07,420.58L97.58,420.39L98.08,420.25L98.59,420.1L99.09,420.32L99.6,419.89L100.11,420.14L100.61,419.93L101.12,419.8L101.62,420.02L102.13,420.16L102.64,420.28L103.14,420.17L103.65,420.7L104.16,420.73L104.66,420.98L105.17,421.23L105.67,421.57L106.18,421.84L106.69,422.16L107.19,422.5L107.7,422.8L107.7,423.6Z" fill="#6aa84f"/>
<path d="M138,423.6L138,422.9L138.5,422.8L139,422.7L139.5,422.6L140,422.5L140.5,422.42L141,422.38L141.5,422.18L142,422.34L142.5,422.38L143,422.48L143.5,422.6L144,422.7L144.5,422.8L145,422.9L145,423.6Z" fill="#6aa84f"/>
<path d="M160,423.6L160,422.6L160.5,422.6L161,422.59L161.5,422.59L162,422.58L162.5,422.58L163,422.58L163.5,422.57L164,422.57L164.5,422.56L165,422.56L165.5,422.55L166,422.55L166.5,422.55L167,422.54L167.5,422.54L168,422.53L168.5,422.53L169,422.53L169.5,422.52L170,422.52L170.5,422.51L171,422.51L171.5,422.5L172,422.5L172.5,422.35L173,422.11L173.5,422.01L174,421.78L174.5,421.72L175,421.67L175.5,421.62L176,421.39L176.5,421.31L177,421.07L177.5,420.76L178,420.6L178.5,420.55L179,420.58L179.5,420.79L180,420.67L180.5,420.6L181,420.29L181.5,420.03L182,420.19L182.5,420.22L183,419.97L183.5,420.13L184,420.06L184.5,420.05L185,420.08L185.5,419.9L186,419.64L186.5,419.46L187,420.04L187.5,419.78L188,419.38L188.5,419.66L189,419.5L189.5,419.29L190,419.53L190.5,419.45L191,419.68L191.5,419.38L192,419.38L192.5,419.3L193,419.11L193.5,418.87L194,418.6L194.5,418.72L195,419.16L195.5,418.5L196,418.78L196.5,418.4L197,418.46L197.5,418.52L198,419.15L198.5,418.81L199,419.69L199.5,419.7L200,419.66L200.5,419.93L201,420.49L201.5,420.52L202,420.9L202.5,421.25L203,421.35L203.5,421.84L204,421.91L204.5,422.14L205,422.4L205.5,422.6L206,422.8L206,423.6Z" fill="#6aa84f"/>
<path d="M228,423.6L228,422.9L228.5,422.84L229,422.78L229.5,422.71L230,422.65L230.5,422.59L231,422.53L231.5,422.42L232,422.38L232.5,422.48L233,422.53L233.5,422.59L234,422.65L234.5,422.71L235,422.78L235.5,422.84L236,422.9L236,423.6Z" fill="#6aa84f"/>
<path d="M246,423.6L246,422.9L246.5,422.83L247,422.75L247.5,422.68L248,422.6L248.5,422.53L249,422.42L249.5,422.39L250,422.36L250.5,422.44L251,422.44L251.5,422.53L252,422.6L252.5,422.68L253,422.75L253.5,422.83L254,422.9L254,423.6Z" fill="#6aa84f"/>
<line x1="42.6" y1="441.3" x2="277.2" y2="441.3" stroke="#c8c8c8" stroke-width="1"/>
<path d="M86,441.8L86,440.9L86.5,440.88L87,440.85L87.5,440.82L88,440.8L88.5,440.78L89,440.75L89.5,440.73L90,440.7L90.5,440.54L91,440.38L91.5,440.32L92,440.21L92.5,439.95L93,439.9L93.5,439.75L94,439.61L94.5,439.37L95,438.45L95.5,437.42L96,436.46L96.5,435.71L97,433.78L97.5,433.34L98,432.43L98.5,431.95L99,431.83L99.5,430.41L100,430.18L100.5,431.15L101,430.1L101.5,432.11L102,431.89L102.5,431.91L103,433.62L103.5,435.89L104,437.56L104.5,437.64L105,438.45L105.5,438.88L106,439.16L106.5,439.59L107,439.69L107.5,439.9L108,439.97L108.5,440.25L109,440.4L109.5,440.57L110,440.8L110.5,440.82L111,440.83L111.5,440.85L112,440.87L112.5,440.88L113,440.9L113,441.8Z" fill="#3f5c88"/>
<path d="M165,441.8L165,440.9L165.5,440.87L166,440.83L166.5,440.8L167,440.77L167.51,440.74L168.01,440.7L168.51,440.64L169.01,440.6L169.51,440.57L170.01,440.52L170.51,440.54L171.01,440.47L171.52,440.49L172.02,440.41L172.52,440.43L173.02,440.34L173.52,440.17L174.02,440.06L174.52,439.9L175.02,439.57L175.53,439.61L176.03,439.29L176.53,439.31L177.03,439.1L177.53,438.95L178.03,438.68L178.53,438.74L179.03,438.63L179.54,438.45L180.04,438.08L180.54,438.24L181.04,437.78L181.54,437.85L182.04,437.77L182.54,437.9L183.04,437.33L183.55,437.56L184.05,437.8L184.55,437.67L185.05,438.11L185.55,438L186.05,437.91L186.55,438.3L187.05,438.42L187.55,438.39L188.06,438.71L188.56,439.07L189.06,439.31L189.56,439.56L190.06,439.48L190.56,439.5L191.06,439.09L191.56,438.96L192.07,438.56L192.57,438.38L193.07,438.2L193.57,437.91L194.07,437.74L194.57,437.69L195.07,437.87L195.57,437.75L196.08,437.86L196.58,437.6L197.08,437.64L197.58,437.76L198.08,437.54L198.58,437.46L199.08,438.05L199.58,437.79L200.09,438L200.59,438.41L201.09,438.14L201.59,438.36L202.09,438.6L202.59,438.76L203.09,438.99L203.59,439.36L204.1,439.54L204.6,439.83L205.1,440.21L205.6,440.54L206.1,440.9L206.1,441.8Z" fill="#3f5c88"/>
<line x1="42.6" y1="454.3" x2="277.2" y2="454.3" stroke="#c8c8c8" stroke-width="1"/>
<path d="M88,454.8L88,454L88.5,453.98L88.99,453.96L89.49,453.95L89.98,453.93L90.48,453.91L90.97,453.85L91.47,453.71L91.97,453.61L92.46,453.39L92.96,453.33L93.45,453.07L93.95,453.07L94.44,452.93L94.94,452.21L95.43,451.06L95.93,450.34L96.43,449.23L96.92,448.52L97.42,447.47L97.91,446.46L98.41,444.6L98.9,444.6L99.4,445.28L99.9,444.47L100.39,444.56L100.89,444.47L101.38,444.61L101.88,446.16L102.37,445.86L102.87,447.69L103.37,449.01L103.86,449.41L104.36,450.12L104.85,450.92L105.35,451.19L105.84,451.91L106.34,452.21L106.83,452.57L107.33,452.74L107.83,452.98L108.32,453.15L108.82,453.26L109.31,453.44L109.81,453.59L110.3,453.82L110.8,454L110.8,454.8Z" fill="#6aa84f"/>
<path d="M165,454.8L165,454L165.5,453.97L166,453.95L166.51,453.92L167.01,453.9L167.51,453.81L168.01,453.72L168.52,453.6L169.02,453.59L169.52,453.49L170.02,453.41L170.53,453.23L171.03,453.18L171.53,453.19L172.03,452.92L172.54,452.89L173.04,452.9L173.54,453.02L174.04,453L174.55,453.17L175.05,453.24L175.55,453.22L176.05,453.29L176.56,453.05L177.06,452.78L177.56,452.5L178.06,452.15L178.57,452.05L179.07,451.73L179.57,451.41L180.07,451.27L180.57,450.82L181.08,450.79L181.58,450.44L182.08,450.2L182.58,450L183.09,449.82L183.59,449.24L184.09,448.97L184.59,449L185.1,449.26L185.6,449.75L186.1,449.59L186.6,450.05L187.11,449.83L187.61,450.11L188.11,450.32L188.61,450.05L189.12,450.39L189.62,450.71L190.12,450.99L190.62,450.91L191.13,450.02L191.63,448.85L192.13,446.77L192.63,446.39L193.13,445.44L193.64,444.12L194.14,444.43L194.64,443.67L195.14,444.17L195.65,443.83L196.15,442.98L196.65,443.98L197.15,444.48L197.66,443.91L198.16,444.79L198.66,446.05L199.16,446.3L199.67,447.83L200.17,448.44L200.67,449.12L201.17,449.13L201.68,449.62L202.18,450.36L202.68,450.97L203.18,451.69L203.69,452.16L204.19,452.34L204.69,452.82L205.19,453.05L205.7,453.44L206.2,453.76L206.7,454.1L206.7,454.8Z" fill="#6aa84f"/>
<line x1="42.6" y1="472.5" x2="271.5" y2="472.5" stroke="#c8c8c8" stroke-width="1"/>
<path d="M60,473L60,472.1L60.5,472.1L61,472.09L61.5,472.09L62,472.09L62.5,472.08L63,472.08L63.5,472.08L64,472.07L64.5,472.07L65,472.07L65.5,472.06L66,472.06L66.5,472.06L67,472.05L67.5,472.05L68,472.05L68.5,472.04L69,472.04L69.5,472.04L70,472.03L70.5,472.03L71,472.03L71.5,472.02L72,472.02L72.5,472.02L73,472.01L73.5,472.01L74,472.01L74.5,472L75,472L75.5,472L76,471.99L76.5,471.99L77,471.98L77.5,471.98L78,471.98L78.5,471.97L79,471.97L79.5,471.96L80,471.96L80.5,471.96L81,471.95L81.5,471.95L82,471.94L82.5,471.94L83,471.94L83.5,471.93L84,471.93L84.5,471.93L85,471.92L85.5,471.92L86,471.91L86.5,471.91L87,471.91L87.5,471.9L88,471.82L88.5,471.81L89,471.65L89.5,471.66L90,471.62L90.5,471.49L91,471.41L91.5,471.32L92,471.31L92.5,471.28L93,471.06L93.5,470.63L94,470.02L94.5,468.96L95,468.56L95.5,467.97L96,467.3L96.5,466.66L97,466.26L97.5,465.22L98,465.16L98.5,464.73L99,464.17L99.5,464.15L100,464.15L100.5,464.5L101,464.46L101.5,465.5L102,465.88L102.5,465.95L103,466.43L103.5,467.18L104,468.18L104.5,468.95L105,469.23L105.5,469.81L106,470.36L106.5,470.68L107,471.06L107.5,471.32L108,471.46L108.5,471.49L109,471.67L109.5,471.82L110,471.93L110.5,472L111,472L111.5,472L112,472L112.5,472L113,472L113.5,472L114,472L114.5,472L115,472L115.5,472L116,472L116.5,472L117,472L117.5,472L118,472L118.5,472L119,472L119.5,472L120,472L120.5,472L121,472L121.5,472L122,472L122.5,472L123,472L123.5,472L124,472L124.5,472L125,472L125.5,472L126,472L126.5,472L127,472L127.5,472L128,472L128.5,472L129,472L129.5,472L130,472L130.5,472L131,472L131.5,472L132,472L132.5,472L133,472L133.5,472L134,472L134.5,472L135,472L135,473Z" fill="#3f5c88"/>
<path d="M167,473L167,472.1L167.5,472.08L168.01,472.05L168.51,472.03L169.01,472.01L169.51,471.95L170.02,471.89L170.52,471.73L171.02,471.74L171.52,471.62L172.03,471.44L172.53,471.43L173.03,471.25L173.53,471.26L174.04,471.26L174.54,470.99L175.04,471.01L175.54,470.8L176.05,470.72L176.55,470.29L177.05,470.28L177.55,469.96L178.06,469.79L178.56,469.65L179.06,469.24L179.56,469.59L180.07,469.17L180.57,469.22L181.07,468.82L181.57,468.69L182.08,468.86L182.58,468.81L183.08,469.11L183.58,469.33L184.09,469.55L184.59,469.73L185.09,469.89L185.59,469.83L186.1,470.08L186.6,470.35L187.1,470.33L187.6,470.56L188.11,470.67L188.61,470.69L189.11,470.69L189.61,470.76L190.12,470.39L190.62,470.25L191.12,470L191.62,470.04L192.13,469.96L192.63,469.67L193.13,469.39L193.63,469.3L194.14,469.37L194.64,468.95L195.14,468.99L195.64,468.74L196.15,468.52L196.65,468.38L197.15,468.63L197.65,468.43L198.16,468.33L198.66,468.25L199.16,468.82L199.66,469.07L200.17,469.38L200.67,469.3L201.17,469.33L201.67,469.69L202.18,470.09L202.68,470.13L203.18,470.31L203.68,470.63L204.19,470.92L204.69,471.24L205.19,471.41L205.69,471.65L206.2,471.87L206.7,472.1L206.7,473Z" fill="#3f5c88"/>
<path d="M228,473L228,472.2L228.5,472.16L229,472.12L229.5,472.09L230,472.05L230.5,472.01L231,471.98L231.5,471.94L232,471.9L232.5,471.94L233,471.98L233.5,472.01L234,472.05L234.5,472.09L235,472.12L235.5,472.16L236,472.2L236,473Z" fill="#6aa84f"/>
<path d="M240,473L240,472.2L240.5,472.17L241,472.14L241.5,472.11L242,472.08L242.5,472.05L243,472.02L243.5,471.99L244,471.96L244.5,471.93L245,471.9L245.5,471.94L246,471.98L246.5,472.01L247,472.05L247.5,472.09L248,472.12L248.5,472.16L249,472.2L249,473Z" fill="#6aa84f"/>
<line x1="42.6" y1="485.6" x2="277.2" y2="485.6" stroke="#c8c8c8" stroke-width="1"/>
<path d="M84,486.1L84,485.4L84.5,485.38L84.99,485.37L85.49,485.35L85.99,485.33L86.48,485.31L86.98,485.28L87.47,485.19L87.97,485.09L88.47,485.03L88.96,484.93L89.46,484.82L89.96,484.75L90.45,484.57L90.95,484.47L91.44,484.43L91.94,484.29L92.44,484.06L92.93,483.68L93.43,483.53L93.93,483.41L94.42,482.82L94.92,482.64L95.41,482.13L95.91,481.28L96.41,480.88L96.9,479.82L97.4,479.77L97.9,479.67L98.39,479.5L98.89,478.56L99.39,478.2L99.88,478.89L100.38,479.11L100.87,478.87L101.37,480.07L101.87,480.06L102.36,481.08L102.86,481.43L103.36,482.03L103.85,482.67L104.35,483.34L104.84,483.68L105.34,484.07L105.84,484.3L106.33,484.45L106.83,484.64L107.33,484.97L107.82,485.11L108.32,485.16L108.81,485.21L109.31,485.26L109.81,485.3L110.3,485.35L110.8,485.4L110.8,486.1Z" fill="#6aa84f"/>
<path d="M165,486.1L165,485.4L165.5,485.38L166,485.35L166.49,485.33L166.99,485.3L167.49,485.24L167.99,485.17L168.48,485.1L168.98,485.04L169.48,484.97L169.98,484.92L170.47,484.81L170.97,484.81L171.47,484.73L171.97,484.64L172.46,484.65L172.96,484.58L173.46,484.52L173.96,484.25L174.46,484.1L174.95,483.6L175.45,483.5L175.95,483L176.45,482.73L176.94,482.42L177.44,482.32L177.94,481.73L178.44,481.6L178.93,481.21L179.43,480.82L179.93,481.07L180.43,480.35L180.92,480.48L181.42,479.84L181.92,479.18L182.42,479.16L182.92,479.42L183.41,479.44L183.91,480.52L184.41,480.73L184.91,480.88L185.4,480.64L185.9,481.25L186.4,481.23L186.9,481.48L187.39,481.33L187.89,481.8L188.39,481.72L188.89,481.48L189.38,480.94L189.88,480.13L190.38,480L190.88,478.53L191.38,478.31L191.87,477.82L192.37,476.87L192.87,476.53L193.37,476.85L193.86,476.4L194.36,476.63L194.86,475.06L195.36,476.11L195.85,475.26L196.35,476.05L196.85,475.93L197.35,475.79L197.84,477.22L198.34,476.7L198.84,477.55L199.34,477.25L199.84,478.53L200.33,478.99L200.83,480.41L201.33,481.04L201.83,481.19L202.32,481.35L202.82,481.68L203.32,481.17L203.82,481.6L204.31,482L204.81,482.75L205.31,483.12L205.81,483.64L206.3,484.23L206.8,484.84L207.3,485.4L207.3,486.1Z" fill="#6aa84f"/>
<line x1="42.6" y1="503.8" x2="271.5" y2="503.8" stroke="#c8c8c8" stroke-width="1"/>
<path d="M63,504.3L63,503.3L63.5,503.3L64,503.3L64.5,503.3L65,503.3L65.5,503.3L66,503.3L66.5,503.3L67,503.3L67.5,503.3L68,503.3L68.5,503.3L69,503.3L69.5,503.3L70,503.3L70,504.3Z" fill="#3f5c88"/>
<path d="M71.5,504.3L71.5,503.3L72,503.3L72.5,503.3L73,503.3L73.5,503.3L74,503.3L74.5,503.3L75,503.3L75.5,503.3L76,503.3L76,504.3Z" fill="#3f5c88"/>
<path d="M80.8,504.3L80.8,503.3L81.3,503.22L81.8,503.08L82.31,503.04L82.81,502.98L83.31,502.85L83.81,502.82L84.32,502.75L84.82,502.54L85.32,502.74L85.82,502.66L86.33,502.73L86.83,502.81L87.33,502.98L87.83,503L88.33,503.03L88.84,502.88L89.34,502.77L89.84,502.76L90.34,502.65L90.85,502.63L91.35,502.56L91.85,502.66L92.35,502.6L92.85,502.76L93.36,502.67L93.86,502.88L94.36,502.78L94.86,502.77L95.37,502.58L95.87,502.39L96.37,501.89L96.87,501.18L97.38,500.61L97.88,499.5L98.38,499.11L98.88,498.97L99.38,498.51L99.89,498.64L100.39,498.57L100.89,498.65L101.39,498.36L101.9,499.62L102.4,500.44L102.9,501.5L103.4,502.18L103.9,502.68L104.41,503.03L104.91,503.05L105.41,502.85L105.91,502.7L106.42,502.48L106.92,502.33L107.42,502.45L107.92,502.37L108.42,502.23L108.93,502.38L109.43,502.42L109.93,502.18L110.43,502.33L110.94,502.11L111.44,502.19L111.94,502.21L112.44,502.45L112.95,502.64L113.45,502.55L113.95,502.83L114.45,502.88L114.95,502.95L115.46,503.14L115.96,503.23L116.46,503.21L116.96,503.22L117.47,503.23L117.97,503.24L118.47,503.25L118.97,503.27L119.47,503.28L119.98,503.29L120.48,503.3L120.98,503.31L121.48,503.32L121.99,503.33L122.49,503.34L122.99,503.36L123.49,503.37L124,503.38L124.5,503.39L125,503.4L125,504.3Z" fill="#3f5c88"/>
<path d="M169.2,504.3L169.2,503.4L169.71,503.15L170.22,503.05L170.74,502.81L171.25,502.63L171.76,502.36L172.27,502.28L172.78,502.41L173.29,502.28L173.81,502.45L174.32,502.23L174.83,502.41L175.34,502.24L175.85,502.33L176.36,502.64L176.88,502.93L177.39,503.14L177.9,503.4L177.9,504.3Z" fill="#3f5c88"/>
<path d="M179.6,504.3L179.6,503.4L180.09,503.24L180.58,503.09L181.08,502.91L181.57,502.78L182.06,502.67L182.55,502.67L183.05,502.68L183.54,502.61L184.03,502.57L184.52,502.63L185.02,502.72L185.51,503.07L186,503.4L186,504.3Z" fill="#3f5c88"/>
<path d="M190.6,504.3L190.6,503.4L191.1,503.2L191.61,503.02L192.11,502.74L192.61,502.59L193.12,502.25L193.62,502.18L194.12,501.88L194.62,501.95L195.13,502.11L195.63,502.1L196.13,501.98L196.64,501.85L197.14,501.74L197.64,502.06L198.15,501.87L198.65,501.86L199.15,501.76L199.66,501.62L200.16,501.61L200.66,501.7L201.17,501.78L201.67,502.05L202.17,501.95L202.67,502.04L203.18,502.07L203.68,502.11L204.18,502.01L204.69,502.45L205.19,502.59L205.69,502.92L206.2,503.11L206.7,503.4L206.7,504.3Z" fill="#3f5c88"/>
<line x1="42.6" y1="517.2" x2="277.2" y2="517.2" stroke="#c8c8c8" stroke-width="1"/>
<path d="M59.2,517.7L59.2,516.9L59.69,516.6L60.18,516.29L60.66,515.72L61.15,515.7L61.64,515.33L62.12,515.31L62.61,515.11L63.1,515.28L63.59,515.36L64.08,515.31L64.56,515.34L65.05,515.76L65.54,516.09L66.03,516.3L66.51,516.61L67,516.9L67,517.7Z" fill="#6aa84f"/>
<path d="M73,517.7L73,516.9L73.5,516.53L74,516.18L74.5,515.81L75,515.63L75.5,515.38L76,515.43L76.5,515.43L77,515.11L77.5,515.41L78,515.54L78.5,515.52L79,515.49L79.5,515.76L80,515.83L80.5,516L81,516.14L81.5,516.27L82,516.44L82.5,516.7L83,516.9L83,517.7Z" fill="#6aa84f"/>
<path d="M111.5,517.7L111.5,517L112.02,516.88L112.53,516.75L113.05,516.63L113.57,516.5L114.08,516.43L114.6,516.46L115.12,516.6L115.63,516.66L116.15,516.75L116.67,516.83L117.18,516.92L117.7,517L117.7,517.7Z" fill="#6aa84f"/>
<path d="M141,517.7L141,517L141.5,516.88L142,516.77L142.5,516.65L143,516.54L143.5,516.43L144,516.38L144.5,516.49L145,516.53L145.5,516.65L146,516.77L146.5,516.88L147,517L147,517.7Z" fill="#6aa84f"/>
<path d="M220,517.7L220,517L220.5,516.83L221,516.65L221.5,516.52L222,516.32L222.5,516.3L223,516.26L223.5,516.39L224,516.22L224.5,516.28L225,516.32L225.5,516.32L226,516.28L226.5,516.5L227,516.65L227.5,516.83L228,517L228,517.7Z" fill="#6aa84f"/>
<path d="M234,517.7L234,517L234.5,516.83L235,516.65L235.5,516.47L236,516.38L236.5,516.34L237,516.25L237.5,516.24L238,516.34L238.5,516.37L239,516.24L239.5,516.33L240,516.25L240.5,516.54L241,516.65L241.5,516.83L242,517L242,517.7Z" fill="#6aa84f"/>
<path d="M258,517.7L258,517L258.5,516.83L259,516.67L259.5,516.56L260,516.49L260.5,516.48L261,516.44L261.5,516.49L262,516.47L262.5,516.67L263,516.83L263.5,517L263.5,517.7Z" fill="#6aa84f"/>
<path d="M274,517.7L274,517L274.53,516.86L275.07,516.72L275.6,516.61L276.13,516.64L276.67,516.67L277.2,516.7L277.2,517.7Z" fill="#6aa84f"/>
<path d="M88.5,517.7L88.5,516.7L89,516.56L89.5,516.39L90,516.29L90.5,516.17L91,516.13L91.5,516.11L92,515.54L92.5,515.44L93,514.79L93.5,514.77L94,514.28L94.5,513.72L95,513.78L95.5,513.27L96,513.46L96.5,512.9L97,511.67L97.5,507.79L98,508.1L98.5,508.26L99,508.81L99.5,509.44L100,510.7L100.5,509.44L101,507.74L101.5,508.28L102,507.4L102.5,509.48L103,512.74L103.5,513.34L104,514.02L104.5,514.08L105,514.81L105.5,515.02L106,515.4L106.5,515.76L107,516.1L107.5,516.6L108,517L108,517.7Z" fill="#a32a3c"/>
<path d="M165.8,517.7L165.8,516.7L166.3,516.7L166.8,516.7L167.3,516.7L167.8,516.7L168.3,516.7L168.8,516.7L169.3,516.7L169.8,516.7L170.3,516.7L170.8,516.7L171.3,516.7L171.8,515.51L172.3,514.04L172.8,514.17L173.3,514.2L173.8,513.56L174.3,513.57L174.8,512.79L175.3,512.71L175.8,512.87L176.3,514.01L176.8,514.31L177.3,514.86L177.8,514.79L178.3,514.9L178.8,514.76L179.3,515.11L179.8,514.88L180.3,515.13L180.8,514.98L181.3,515.11L181.8,514.54L182.3,513.75L182.8,513.07L183.3,511.86L183.8,511.59L184.3,511.63L184.8,511.19L185.3,511.02L185.8,511.05L186.3,512.31L186.8,512.19L187.3,512.63L187.8,512.75L188.3,512.44L188.8,512.83L189.3,513.18L189.8,513.3L190.3,512.74L190.8,512.49L191.3,512.83L191.8,512.4L192.3,512.52L192.8,512.21L193.3,512.5L193.8,510.73L194.3,510.36L194.8,510.37L195.3,509.8L195.8,509.06L196.3,508.38L196.8,507.16L197.3,506.93L197.8,506.58L198.3,505.24L198.8,507.32L199.3,506.71L199.8,505.03L200.3,504.91L200.8,505.06L201.3,507.86L201.8,507.24L202.3,508.01L202.8,508.29L203.3,510.22L203.8,512.04L204.3,512.1L204.8,514.05L205.3,514.05L205.8,514.58L206.3,514.76L206.8,515.45L207.3,515.4L207.8,515.72L208.3,516.18L208.8,516.4L209.3,516.46L209.8,516.53L210.3,516.66L210.8,516.78L211.3,516.9L211.3,517.7Z" fill="#a32a3c"/>
<line x1="42.6" y1="535.3" x2="277.2" y2="535.3" stroke="#c8c8c8" stroke-width="1"/>
<path d="M48,535.8L48,534.7L48.51,534.7L49.01,534.7L49.52,534.7L50.02,534.7L50.53,534.7L51.04,534.7L51.54,534.7L52.05,534.7L52.56,534.7L53.06,534.7L53.57,534.7L54.08,534.7L54.58,534.7L55.09,534.7L55.59,534.7L56.1,534.7L56.1,535.8Z" fill="#9db0cc"/>
<path d="M78,535.8L78,535L78.5,534.87L79.01,534.74L79.52,534.58L80.02,534.53L80.53,534.42L81.03,534.28L81.53,534.01L82.04,534.09L82.55,534L83.05,533.92L83.56,533.86L84.06,533.73L84.56,533.47L85.07,533.35L85.58,533.58L86.08,533.43L86.59,533.25L87.09,533.17L87.59,532.78L88.1,532.97L88.61,532.64L89.11,532.81L89.62,532.69L90.12,532.45L90.62,532.58L91.13,532.95L91.64,532.79L92.14,532.54L92.64,533.04L93.15,532.68L93.66,533.1L94.16,533.28L94.67,532.91L95.17,533.37L95.68,533.04L96.18,533.05L96.69,533.52L97.19,533.98L97.69,534.45L98.2,534.8L98.2,535.8Z" fill="#3f5c88"/>
<path d="M100,535.8L100,535L100.5,534.9L101,534.8L101.5,534.71L102,534.63L102.5,534.55L103,534.49L103.5,534.31L104,534.15L104.5,533.99L105,534.03L105.5,533.8L106,533.34L106.5,533.48L107,533.07L107.5,532.73L108,532.72L108.5,532.26L109,532.51L109.5,531.79L110,531.87L110.5,532.35L111,532.19L111.5,532.08L112,532L112.5,531.69L113,531.64L113.5,531.97L114,531.88L114.5,531.27L115,531.33L115.5,531.68L116,531.4L116.5,532L117,532.18L117.5,532.07L118,532.29L118.5,532.56L119,533L119.5,533.32L120,533.33L120.5,533.61L121,533.7L121.5,534.19L122,534.32L122.5,534.5L123,535L123,535.8Z" fill="#3f5c88"/>
<path d="M134.6,535.8L134.6,534.8L135.1,534.76L135.6,534.73L136.1,534.69L136.6,534.73L137.1,534.65L137.6,534.56L138.1,534.62L138.59,534.51L139.09,534.37L139.59,534.44L140.09,534.34L140.59,534.35L141.09,534.49L141.59,534.46L142.09,534.47L142.59,534.51L143.09,534.56L143.59,534.54L144.09,534.62L144.59,534.53L145.09,534.51L145.59,534.53L146.08,534.5L146.58,534.45L147.08,534.41L147.58,534.5L148.08,534.52L148.58,534.42L149.08,534.33L149.58,534.22L150.08,534.4L150.58,534.38L151.08,534.17L151.58,534.33L152.08,534.16L152.58,534.18L153.08,534.14L153.58,534.08L154.07,534.09L154.57,534.13L155.07,534.09L155.57,534.15L156.07,534.23L156.57,533.94L157.07,533.92L157.57,533.84L158.07,533.91L158.57,533.89L159.07,533.65L159.57,533.72L160.07,533.41L160.57,533.2L161.07,533.01L161.56,533.15L162.06,532.88L162.56,533.01L163.06,532.53L163.56,532.19L164.06,532.29L164.56,531.97L165.06,531.84L165.56,531.27L166.06,530.34L166.56,530.61L167.06,530.65L167.56,529.89L168.06,530.61L168.56,530.34L169.05,530.58L169.55,530.4L170.05,530.89L170.55,531.03L171.05,531.01L171.55,531.8L172.05,531.88L172.55,531.7L173.05,531.89L173.55,532.15L174.05,532.37L174.55,532.18L175.05,531.7L175.55,532.21L176.05,531.53L176.55,531.87L177.04,531.31L177.54,531.32L178.04,530.89L178.54,531.4L179.04,531.18L179.54,530.66L180.04,530.97L180.54,530.37L181.04,529.62L181.54,530.27L182.04,530.79L182.54,531.31L183.04,531.51L183.54,531.56L184.04,531.98L184.53,532.4L185.03,532.29L185.53,532.6L186.03,532.62L186.53,532.58L187.03,532.86L187.53,532.84L188.03,532.66L188.53,533.03L189.03,532.74L189.53,533.05L190.03,532.87L190.53,532.88L191.03,532.91L191.53,533.04L192.02,533.15L192.52,532.98L193.02,533.09L193.52,533.27L194.02,532.85L194.52,532.94L195.02,533.19L195.52,533.44L196.02,533.65L196.52,533.49L197.02,533.82L197.52,533.87L198.02,534.02L198.52,533.95L199.02,533.6L199.52,533.18L200.01,533.02L200.51,532.81L201.01,532.84L201.51,532.45L202.01,532.49L202.51,532.06L203.01,532.66L203.51,532.74L204.01,532.81L204.51,533.03L205.01,533.18L205.51,533.46L206.01,533.74L206.51,533.63L207.01,533.72L207.5,534.03L208,534.08L208.5,534.25L209,534.43L209.5,534.4L210,534.68L210.5,534.82L211,535L211,535.8Z" fill="#3f5c88"/>
<path d="M215.4,535.8L215.4,534.8L215.9,534.77L216.4,534.74L216.9,534.71L217.4,534.74L217.9,534.6L218.41,534.66L218.91,534.55L219.41,534.5L219.91,534.58L220.41,534.46L220.91,534.39L221.41,534.44L221.91,534.42L222.41,534.36L222.91,534.24L223.42,534.39L223.92,534.39L224.42,534.32L224.92,534.27L225.42,534.12L225.92,534.29L226.42,534.12L226.92,534.04L227.42,534.2L227.92,534.17L228.43,534.2L228.93,534.18L229.43,534.01L229.93,534.12L230.43,534.01L230.93,533.89L231.43,534.04L231.93,534.03L232.43,533.94L232.93,533.74L233.44,533.83L233.94,533.81L234.44,533.76L234.94,533.77L235.44,533.73L235.94,533.68L236.44,533.71L236.94,533.5L237.44,533.65L237.94,533.52L238.45,533.64L238.95,533.64L239.45,533.76L239.95,533.75L240.45,533.76L240.95,533.68L241.45,533.9L241.95,533.89L242.45,533.74L242.95,533.93L243.46,533.75L243.96,533.84L244.46,533.79L244.96,533.89L245.46,533.69L245.96,533.65L246.46,533.93L246.96,533.58L247.46,533.72L247.96,533.56L248.47,533.49L248.97,533.46L249.47,533.77L249.97,533.54L250.47,533.55L250.97,533.58L251.47,533.49L251.97,533.64L252.47,533.35L252.97,533.67L253.48,533.56L253.98,533.57L254.48,533.82L254.98,533.59L255.48,533.84L255.98,533.76L256.48,533.7L256.98,533.7L257.48,533.66L257.98,533.71L258.49,533.99L258.99,533.97L259.49,534.03L259.99,533.9L260.49,533.97L260.99,533.82L261.49,533.91L261.99,533.84L262.49,533.98L262.99,533.92L263.5,533.98L264,534.07L264.5,534.16L265,534.14L265.5,534.69L266,535L266,535.8Z" fill="#3f5c88"/>
<line x1="42.6" y1="548.4" x2="277.2" y2="548.4" stroke="#c8c8c8" stroke-width="1"/>
<path d="M42.6,548.9L42.6,545.03L43.1,544.78L43.6,544.77L44.1,544.98L44.6,544.99L45.1,545.34L45.6,545.23L46.1,545.58L46.6,545.53L47.1,545.97L47.6,545.89L48.1,546.05L48.6,545.96L49.1,545.95L49.6,546.1L50.1,546.15L50.6,546.18L51.1,546.06L51.6,546.02L52.1,545.99L52.61,546.24L53.11,545.94L53.61,545.65L54.11,544.93L54.61,545.19L55.11,545.06L55.61,545.26L56.11,545.8L56.61,545.98L57.11,546.19L57.61,546.41L58.11,546.52L58.61,546.8L59.11,546.77L59.61,546.84L60.11,546.86L60.61,546.45L61.11,545.67L61.61,545.26L62.11,544.37L62.61,544.08L63.11,543.5L63.61,542.49L64.11,542.39L64.61,541.73L65.11,541.6L65.61,541.92L66.11,541.1L66.61,541.66L67.11,540.86L67.61,541.08L68.11,540.27L68.61,540.71L69.11,540.41L69.61,540.92L70.11,541.58L70.61,541.3L71.11,541.22L71.62,540.99L72.12,540.94L72.62,540.72L73.12,539.58L73.62,539.92L74.12,539.01L74.62,538.45L75.12,539.12L75.62,540.1L76.12,540.37L76.62,540.32L77.12,540.18L77.62,540.39L78.12,540.93L78.62,540.84L79.12,541.56L79.62,541.87L80.12,541.85L80.62,542.19L81.12,542.41L81.62,543.15L82.12,543.43L82.62,542.88L83.12,542.25L83.62,541.92L84.12,542.12L84.62,541.76L85.12,540.51L85.62,540.35L86.12,540.11L86.62,539.33L87.12,539.41L87.62,539.37L88.12,538.92L88.62,538.86L89.12,539.24L89.62,538.85L90.12,538.61L90.62,539.04L91.13,538.96L91.63,539.87L92.13,540.09L92.63,541.39L93.13,541.73L93.63,542.1L94.13,542.68L94.63,542.4L95.13,542.29L95.63,543.03L96.13,543.05L96.63,543.36L97.13,543.62L97.63,543.95L98.13,543.98L98.63,544.65L99.13,544.84L99.63,545.41L100.13,545.45L100.63,545.5L101.13,545.51L101.63,545.55L102.13,545.25L102.63,545.55L103.13,545.24L103.63,545.58L104.13,545.52L104.63,545.31L105.13,544.46L105.63,544.23L106.13,543.62L106.63,542.54L107.13,541.63L107.63,541.76L108.13,541.3L108.63,541.53L109.13,541.55L109.63,541.61L110.14,540.65L110.64,541.22L111.14,540.53L111.64,541.33L112.14,541.03L112.64,539.93L113.14,540.51L113.64,540.23L114.14,539.52L114.64,540.25L115.14,540.61L115.64,541.62L116.14,542.69L116.64,542.86L117.14,543.47L117.64,544.06L118.14,544.13L118.64,544.99L119.14,545.18L119.64,545.53L120.14,545.93L120.64,546.28L121.14,546.47L121.64,546.64L122.14,546.74L122.64,546.62L123.14,546.66L123.64,546.73L124.14,546.76L124.64,546.8L125.14,546.6L125.64,546.73L126.14,546.61L126.64,545.75L127.14,545.37L127.64,544.77L128.14,544.09L128.64,544L129.14,543.87L129.65,543.69L130.15,543.77L130.65,543.98L131.15,544.13L131.65,543.72L132.15,544.22L132.65,543.87L133.15,544.23L133.65,544.05L134.15,544.06L134.65,543.76L135.15,544.22L135.65,544.23L136.15,544.2L136.65,543.99L137.15,543.61L137.65,543.64L138.15,543.71L138.65,543.87L139.15,543.73L139.65,543.79L140.15,543.78L140.65,543.65L141.15,543.57L141.65,544L142.15,544.01L142.65,543.39L143.15,543.71L143.65,543.61L144.15,543.45L144.65,543.38L145.15,543.94L145.65,543.89L146.15,543.92L146.65,543.47L147.15,543.55L147.65,543.67L148.15,543.72L148.66,543.59L149.16,543.96L149.66,543.72L150.16,544.08L150.66,543.55L151.16,544.01L151.66,543.49L152.16,543.65L152.66,543.55L153.16,544.09L153.66,544.03L154.16,543.62L154.66,544.12L155.16,544.06L155.66,543.75L156.16,543.92L156.66,543.89L157.16,543.89L157.66,543.71L158.16,543.79L158.66,544.12L159.16,543.91L159.66,544.08L160.16,543.49L160.66,544L161.16,543.69L161.66,543.76L162.16,543.19L162.66,543.57L163.16,543.61L163.66,543.42L164.16,543.1L164.66,543.6L165.16,543.28L165.66,543.68L166.16,543.72L166.66,543.51L167.16,543.59L167.66,543.8L168.17,543.67L168.67,543.73L169.17,543.92L169.67,544.3L170.17,544.07L170.67,544.51L171.17,544.05L171.67,544.12L172.17,543.55L172.67,542.64L173.17,542.29L173.67,542.35L174.17,541.85L174.67,541.67L175.17,540.83L175.67,540.35L176.17,539.98L176.67,539.01L177.17,538.74L177.67,538.56L178.17,538.03L178.67,538.12L179.17,537.94L179.67,537.75L180.17,538.75L180.67,539.68L181.17,539.07L181.67,539.82L182.17,539.91L182.67,540.25L183.17,540.55L183.67,541.23L184.17,541.8L184.67,542.25L185.17,542.42L185.67,542.95L186.17,543.51L186.67,544.29L187.18,544.51L187.68,545.04L188.18,544.73L188.68,544.16L189.18,543.89L189.68,543.73L190.18,542.82L190.68,542.39L191.18,542.59L191.68,541.63L192.18,541.03L192.68,541.55L193.18,541.15L193.68,540.74L194.18,541.66L194.68,541.65L195.18,541.96L195.68,541.82L196.18,541.94L196.68,541.64L197.18,542.03L197.68,543.07L198.18,543.37L198.68,543.76L199.18,544.03L199.68,545.04L200.18,545.41L200.68,545.47L201.18,545.89L201.68,545.88L202.18,546.23L202.68,546.21L203.18,546.47L203.68,546.66L204.18,546.9L204.68,547.08L205.18,547.14L205.68,546.93L206.18,546.68L206.69,546.23L207.19,545.97L207.69,545.73L208.19,545.58L208.69,545.26L209.19,544.95L209.69,545.08L210.19,544.69L210.69,544.23L211.19,544.21L211.69,544.01L212.19,543.86L212.69,543.5L213.19,543.37L213.69,543.6L214.19,543.07L214.69,543.6L215.19,543.53L215.69,543.77L216.19,543.77L216.69,543.58L217.19,544.27L217.69,544.03L218.19,544.38L218.69,544.87L219.19,544.99L219.69,545.16L220.19,545.35L220.69,545.47L221.19,545.65L221.69,545.96L222.19,546.08L222.69,546.19L223.19,546.46L223.69,546.4L224.19,546.43L224.69,546.53L225.19,546.56L225.7,546.65L226.2,546.92L226.7,546.9L227.2,546.96L227.7,546.96L228.2,547.1L228.7,547.2L229.2,547.22L229.7,547.3L230.2,547.4L230.7,547.47L231.2,547.53L231.7,547.6L232.2,547.65L232.7,547.72L233.2,547.8L233.7,547.88L234.2,547.95L234.7,548.03L235.2,548.1L235.2,548.9Z" fill="#a32a3c"/>
<path d="M240,548.9L240,548.2L240.5,548.17L241,548.14L241.5,548.11L242,548.08L242.5,548.05L243,548.02L243.5,547.99L244,547.96L244.5,547.93L245,547.9L245.5,547.82L246,547.76L246.5,547.62L247,547.55L247.5,547.44L248,547.51L248.5,547.29L249,547.15L249.5,547.27L250,547.07L250.5,547.13L251,546.94L251.5,546.79L252,547.14L252.5,547.17L253,547.24L253.5,547.32L254,547.28L254.5,547.37L255,547.57L255.5,547.68L256,547.73L256.5,547.66L257,547.75L257.5,547.83L258,547.88L258.5,547.94L259,547.99L259.5,548.05L260,548.1L260,548.9Z" fill="#6aa84f"/>
<path d="M265,548.9L265,548.2L265.5,548.07L266,547.94L266.5,547.81L267,547.75L267.5,547.62L268,547.35L268.5,547.29L269,547.22L269.5,547.41L270,547.55L270.5,547.7L271,547.89L271.5,548.04L272,548.2L272,548.9Z" fill="#6aa84f"/>
<line x1="40" y1="398.5" x2="40" y2="420.8" stroke="#555" stroke-width="1.2"/>
<line x1="40" y1="430" x2="40" y2="452.3" stroke="#555" stroke-width="1.2"/>
<line x1="40" y1="461.5" x2="40" y2="483.5" stroke="#555" stroke-width="1.2"/>
<line x1="40" y1="492.8" x2="40" y2="514.6" stroke="#555" stroke-width="1.2"/>
<line x1="40" y1="526.6" x2="40" y2="549.2" stroke="#555" stroke-width="1.2"/>
<line x1="283.1" y1="398.1" x2="283.1" y2="421.9" stroke="#333" stroke-width="1.2"/>
<line x1="283.1" y1="429.6" x2="283.1" y2="452.7" stroke="#333" stroke-width="1.2"/>
<line x1="283.1" y1="460.8" x2="283.1" y2="484.2" stroke="#333" stroke-width="1.2"/>
<line x1="283.1" y1="491.9" x2="283.1" y2="515.8" stroke="#333" stroke-width="1.2"/>
<line x1="283.1" y1="526.1" x2="283.1" y2="549.6" stroke="#333" stroke-width="1.2"/>
<text transform="translate(25.2,409.65) rotate(-90)" font-size="7.4" stroke="#231f20" stroke-width="0.04" text-anchor="middle" textLength="25.7" lengthAdjust="spacingAndGlyphs">RUNX1-</text>
<text transform="translate(34.1,410.2) rotate(-90)" font-size="7.4" stroke="#231f20" stroke-width="0.04" text-anchor="middle" textLength="29.2" lengthAdjust="spacingAndGlyphs">RUNX1T1</text>
<text transform="translate(34.1,440.9) rotate(-90)" font-size="7.4" stroke="#231f20" stroke-width="0.04" text-anchor="middle" textLength="13" lengthAdjust="spacingAndGlyphs">E2A</text>
<text transform="translate(34.1,472.3) rotate(-90)" font-size="7.4" stroke="#231f20" stroke-width="0.04" text-anchor="middle" textLength="14.2" lengthAdjust="spacingAndGlyphs">HEB</text>
<text transform="translate(34.1,503.8) rotate(-90)" font-size="7.4" stroke="#231f20" stroke-width="0.04" text-anchor="middle" textLength="18.8" lengthAdjust="spacingAndGlyphs">GCN5</text>
<text transform="translate(34.1,537.7) rotate(-90)" font-size="7.4" stroke="#231f20" stroke-width="0.04" text-anchor="middle" textLength="25" lengthAdjust="spacingAndGlyphs">H3K9ac</text>
<text transform="translate(293.6,409.75) rotate(-90)" font-size="7.4" stroke="#231f20" stroke-width="0.04" text-anchor="middle" textLength="22.3" lengthAdjust="spacingAndGlyphs">[0 - 38]</text>
<text transform="translate(293.6,441.35) rotate(-90)" font-size="7.4" stroke="#231f20" stroke-width="0.04" text-anchor="middle" textLength="25.5" lengthAdjust="spacingAndGlyphs">[0 - 137]</text>
<text transform="translate(293.6,472.7) rotate(-90)" font-size="7.4" stroke="#231f20" stroke-width="0.04" text-anchor="middle" textLength="22" lengthAdjust="spacingAndGlyphs">[0 - 84]</text>
<text transform="translate(293.6,504) rotate(-90)" font-size="7.4" stroke="#231f20" stroke-width="0.04" text-anchor="middle" textLength="27" lengthAdjust="spacingAndGlyphs">[0 - 9.09]</text>
<text transform="translate(293.6,538.5) rotate(-90)" font-size="7.4" stroke="#231f20" stroke-width="0.04" text-anchor="middle" textLength="27.4" lengthAdjust="spacingAndGlyphs">[0 - 5.93]</text>
<text x="246" y="401.6" font-size="7.6" stroke="#5673a2" stroke-width="0.1" text-anchor="middle" fill="#5673a2" textLength="30.8" lengthAdjust="spacingAndGlyphs">shControl</text>
<text x="246" y="434.5" font-size="7.6" stroke="#5673a2" stroke-width="0.1" text-anchor="middle" fill="#5673a2" textLength="30.8" lengthAdjust="spacingAndGlyphs">shControl</text>
<text x="246" y="468.5" font-size="7.6" stroke="#5673a2" stroke-width="0.1" text-anchor="middle" fill="#5673a2" textLength="30.8" lengthAdjust="spacingAndGlyphs">shControl</text>
<text x="246" y="498.1" font-size="7.6" stroke="#5673a2" stroke-width="0.1" text-anchor="middle" fill="#5673a2" textLength="30.8" lengthAdjust="spacingAndGlyphs">shControl</text>
<text x="246" y="529.2" font-size="7.6" stroke="#5673a2" stroke-width="0.1" text-anchor="middle" fill="#5673a2" textLength="30.8" lengthAdjust="spacingAndGlyphs">shControl</text>
<text x="246.15" y="419.6" font-size="7.6" stroke="#a8283e" stroke-width="0.1" text-anchor="middle" fill="#a8283e" textLength="61.3" lengthAdjust="spacingAndGlyphs">shRUNX1-RUNX1T1</text>
<text x="246.15" y="451.9" font-size="7.6" stroke="#a8283e" stroke-width="0.1" text-anchor="middle" fill="#a8283e" textLength="61.3" lengthAdjust="spacingAndGlyphs">shRUNX1-RUNX1T1</text>
<text x="246.15" y="482.7" font-size="7.6" stroke="#a8283e" stroke-width="0.1" text-anchor="middle" fill="#a8283e" textLength="61.3" lengthAdjust="spacingAndGlyphs">shRUNX1-RUNX1T1</text>
<text x="246.15" y="512.7" font-size="7.6" stroke="#a8283e" stroke-width="0.1" text-anchor="middle" fill="#a8283e" textLength="61.3" lengthAdjust="spacingAndGlyphs">shRUNX1-RUNX1T1</text>
<text x="246.15" y="542.7" font-size="7.6" stroke="#a8283e" stroke-width="0.1" text-anchor="middle" fill="#a8283e" textLength="61.3" lengthAdjust="spacingAndGlyphs">shRUNX1-RUNX1T1</text>
<line x1="38.9" y1="560.9" x2="76" y2="560.9" stroke="#4a6285" stroke-width="0.9"/>
<path d="M43.1,557.9 L41.5,560.9 L43.1,563.9" fill="none" stroke="#4a6285" stroke-width="0.9"/>
<path d="M58.5,557.9 L56.9,560.9 L58.5,563.9" fill="none" stroke="#4a6285" stroke-width="0.9"/>
<path d="M73.1,557.9 L71.5,560.9 L73.1,563.9" fill="none" stroke="#4a6285" stroke-width="0.9"/>
<rect x="75.8" y="554.5" width="7.3" height="13.6" fill="#4a6285"/>
<rect x="83" y="557.3" width="14.2" height="7.7" fill="#4a6285"/>
<text x="115.4" y="563.8" font-size="8.2" stroke="#231f20" stroke-width="0.12" text-anchor="middle" textLength="30.6" lengthAdjust="spacingAndGlyphs">CBFA2T3</text>
<line x1="200" y1="562.6" x2="248.5" y2="562.6" stroke="#231f20" stroke-width="1.1"/>
<line x1="200.2" y1="559.2" x2="200.2" y2="565.9" stroke="#231f20" stroke-width="1.1"/>
<line x1="248.3" y1="559.2" x2="248.3" y2="565.9" stroke="#231f20" stroke-width="1.1"/>
<text x="224.6" y="558.1" font-size="7.8" stroke="#231f20" stroke-width="0.12" text-anchor="middle" textLength="14.8" lengthAdjust="spacingAndGlyphs">1 Kb</text>
<text x="322.7" y="374.8" font-size="11.8" stroke="#231f20" stroke-width="0.3" textLength="6" lengthAdjust="spacingAndGlyphs">F</text>
<rect x="371" y="382.3" width="7.1" height="6.5" fill="#4a6285"/>
<text x="381.3" y="387.9" font-size="7.2" stroke="#231f20" stroke-width="0.12" textLength="30.8" lengthAdjust="spacingAndGlyphs">shControl</text>
<rect x="422.5" y="382.3" width="6.9" height="6.5" fill="#a33444"/>
<text x="432.3" y="387.9" font-size="7.2" stroke="#231f20" stroke-width="0.12" textLength="62" lengthAdjust="spacingAndGlyphs">shRUNX1-RUNX1T1</text>
<text transform="translate(330,434.9) rotate(-90)" font-size="9" stroke="#231f20" stroke-width="0.12" text-anchor="middle" textLength="115.2" lengthAdjust="spacingAndGlyphs">ChIP binding promoter (-71)</text>
<text transform="translate(330,527.25) rotate(-90)" font-size="9" stroke="#231f20" stroke-width="0.12" text-anchor="middle" textLength="120.9" lengthAdjust="spacingAndGlyphs">ChIP binding enhancer (-2021)</text>
<line x1="352.3" y1="396.9" x2="352.3" y2="474.9" stroke="#231f20" stroke-width="1.1"/>
<line x1="351.8" y1="474.4" x2="429.6" y2="474.4" stroke="#231f20" stroke-width="1.1"/>
<line x1="349.3" y1="466.65" x2="352.3" y2="466.65" stroke="#231f20" stroke-width="1"/>
<line x1="349.3" y1="458.9" x2="352.3" y2="458.9" stroke="#231f20" stroke-width="1"/>
<line x1="349.3" y1="451.15" x2="352.3" y2="451.15" stroke="#231f20" stroke-width="1"/>
<line x1="349.3" y1="443.4" x2="352.3" y2="443.4" stroke="#231f20" stroke-width="1"/>
<line x1="349.3" y1="427.9" x2="352.3" y2="427.9" stroke="#231f20" stroke-width="1"/>
<line x1="349.3" y1="420.15" x2="352.3" y2="420.15" stroke="#231f20" stroke-width="1"/>
<line x1="349.3" y1="412.4" x2="352.3" y2="412.4" stroke="#231f20" stroke-width="1"/>
<line x1="349.3" y1="404.65" x2="352.3" y2="404.65" stroke="#231f20" stroke-width="1"/>
<line x1="349.3" y1="396.9" x2="352.3" y2="396.9" stroke="#231f20" stroke-width="1"/>
<text x="345.6" y="399.6" font-size="8.4" stroke="#231f20" stroke-width="0.12" text-anchor="end" textLength="4" lengthAdjust="spacingAndGlyphs">1</text>
<line x1="349.3" y1="435.65" x2="352.3" y2="435.65" stroke="#231f20" stroke-width="1"/>
<text x="345.6" y="438.35" font-size="8.4" stroke="#231f20" stroke-width="0.12" text-anchor="end" textLength="9.9" lengthAdjust="spacingAndGlyphs">0.5</text>
<line x1="349.3" y1="474.4" x2="352.3" y2="474.4" stroke="#231f20" stroke-width="1"/>
<text x="345.6" y="477.1" font-size="8.4" stroke="#231f20" stroke-width="0.12" text-anchor="end" textLength="4" lengthAdjust="spacingAndGlyphs">0</text>
<rect x="375.8" y="463.8" width="5.2" height="10.6" fill="#4a6285"/>
<line x1="378.4" y1="463.8" x2="378.4" y2="463" stroke="#231f20" stroke-width="0.9"/>
<line x1="377.1" y1="463" x2="379.7" y2="463" stroke="#231f20" stroke-width="0.9"/>
<rect x="381.5" y="470.8" width="5.2" height="3.6" fill="#a33444"/>
<line x1="384.1" y1="470.8" x2="384.1" y2="470.2" stroke="#231f20" stroke-width="0.9"/>
<line x1="382.8" y1="470.2" x2="385.4" y2="470.2" stroke="#231f20" stroke-width="0.9"/>
<rect x="395" y="467.3" width="5.2" height="7.1" fill="#4a6285"/>
<line x1="397.6" y1="467.3" x2="397.6" y2="466.6" stroke="#231f20" stroke-width="0.9"/>
<line x1="396.3" y1="466.6" x2="398.9" y2="466.6" stroke="#231f20" stroke-width="0.9"/>
<rect x="400.8" y="459.2" width="5.4" height="15.2" fill="#a33444"/>
<line x1="403.5" y1="459.2" x2="403.5" y2="458.5" stroke="#231f20" stroke-width="0.9"/>
<line x1="402.2" y1="458.5" x2="404.8" y2="458.5" stroke="#231f20" stroke-width="0.9"/>
<rect x="414.2" y="411.5" width="5.2" height="62.9" fill="#4a6285"/>
<line x1="416.8" y1="411.5" x2="416.8" y2="410.8" stroke="#231f20" stroke-width="0.9"/>
<line x1="415.5" y1="410.8" x2="418.1" y2="410.8" stroke="#231f20" stroke-width="0.9"/>
<rect x="420" y="413.5" width="5.2" height="60.9" fill="#a33444"/>
<line x1="422.6" y1="413.5" x2="422.6" y2="407.3" stroke="#231f20" stroke-width="0.9"/>
<line x1="421.3" y1="407.3" x2="423.9" y2="407.3" stroke="#231f20" stroke-width="0.9"/>
<text x="384.9" y="471.2" font-size="7" stroke="#231f20" stroke-width="0.12" text-anchor="middle" textLength="6" lengthAdjust="spacingAndGlyphs">**</text>
<text x="403.2" y="459.7" font-size="7" stroke="#231f20" stroke-width="0.12" text-anchor="middle" textLength="9.4" lengthAdjust="spacingAndGlyphs">***</text>
<text x="422.6" y="404.4" font-size="7" stroke="#231f20" stroke-width="0.12" text-anchor="middle">n.s.</text>
<line x1="449.2" y1="397" x2="449.2" y2="474.9" stroke="#231f20" stroke-width="1.1"/>
<line x1="448.7" y1="474.4" x2="512.3" y2="474.4" stroke="#231f20" stroke-width="1.1"/>
<line x1="446.2" y1="461.5" x2="449.2" y2="461.5" stroke="#231f20" stroke-width="1"/>
<line x1="446.2" y1="435.7" x2="449.2" y2="435.7" stroke="#231f20" stroke-width="1"/>
<line x1="446.2" y1="409.9" x2="449.2" y2="409.9" stroke="#231f20" stroke-width="1"/>
<line x1="446.2" y1="397" x2="449.2" y2="397" stroke="#231f20" stroke-width="1"/>
<text x="444.3" y="399.7" font-size="8.4" stroke="#231f20" stroke-width="0.12" text-anchor="end" textLength="8" lengthAdjust="spacingAndGlyphs">30</text>
<line x1="446.2" y1="422.8" x2="449.2" y2="422.8" stroke="#231f20" stroke-width="1"/>
<text x="444.3" y="425.5" font-size="8.4" stroke="#231f20" stroke-width="0.12" text-anchor="end" textLength="8" lengthAdjust="spacingAndGlyphs">20</text>
<line x1="446.2" y1="448.6" x2="449.2" y2="448.6" stroke="#231f20" stroke-width="1"/>
<text x="444.3" y="451.3" font-size="8.4" stroke="#231f20" stroke-width="0.12" text-anchor="end" textLength="8" lengthAdjust="spacingAndGlyphs">10</text>
<line x1="446.2" y1="474.4" x2="449.2" y2="474.4" stroke="#231f20" stroke-width="1"/>
<text x="444.3" y="477.1" font-size="8.4" stroke="#231f20" stroke-width="0.12" text-anchor="end" textLength="4" lengthAdjust="spacingAndGlyphs">0</text>
<rect x="454.2" y="472.5" width="5.2" height="1.9" fill="#4a6285"/>
<line x1="456.8" y1="472.5" x2="456.8" y2="471.8" stroke="#231f20" stroke-width="0.9"/>
<line x1="455.5" y1="471.8" x2="458.1" y2="471.8" stroke="#231f20" stroke-width="0.9"/>
<rect x="459.8" y="462.5" width="5.8" height="11.9" fill="#a33444"/>
<line x1="462.7" y1="462.5" x2="462.7" y2="461.8" stroke="#231f20" stroke-width="0.9"/>
<line x1="461.4" y1="461.8" x2="464" y2="461.8" stroke="#231f20" stroke-width="0.9"/>
<rect x="473.5" y="451.9" width="5.2" height="22.5" fill="#4a6285"/>
<line x1="476.1" y1="451.9" x2="476.1" y2="449.6" stroke="#231f20" stroke-width="0.9"/>
<line x1="474.8" y1="449.6" x2="477.4" y2="449.6" stroke="#231f20" stroke-width="0.9"/>
<rect x="479" y="412.9" width="5.4" height="61.5" fill="#a33444"/>
<line x1="481.7" y1="412.9" x2="481.7" y2="409.6" stroke="#231f20" stroke-width="0.9"/>
<line x1="480.4" y1="409.6" x2="483" y2="409.6" stroke="#231f20" stroke-width="0.9"/>
<text x="463.7" y="463.1" font-size="7" stroke="#231f20" stroke-width="0.12" text-anchor="middle" textLength="9.4" lengthAdjust="spacingAndGlyphs">***</text>
<text x="481.2" y="409.7" font-size="7" stroke="#231f20" stroke-width="0.12" text-anchor="middle" textLength="9.4" lengthAdjust="spacingAndGlyphs">***</text>
<text transform="translate(457.8,460.1) rotate(-90)" font-size="7" stroke="#231f20" stroke-width="0.12" text-anchor="middle" textLength="16.8" lengthAdjust="spacingAndGlyphs">580%</text>
<text transform="translate(476.8,437.3) rotate(-90)" font-size="7" stroke="#231f20" stroke-width="0.12" text-anchor="middle" textLength="17.4" lengthAdjust="spacingAndGlyphs">270%</text>
<line x1="352.7" y1="489.6" x2="352.7" y2="568.8" stroke="#231f20" stroke-width="1.1"/>
<line x1="352.2" y1="568.3" x2="429.6" y2="568.3" stroke="#231f20" stroke-width="1.1"/>
<line x1="349.7" y1="560.43" x2="352.7" y2="560.43" stroke="#231f20" stroke-width="1"/>
<line x1="349.7" y1="552.56" x2="352.7" y2="552.56" stroke="#231f20" stroke-width="1"/>
<line x1="349.7" y1="544.69" x2="352.7" y2="544.69" stroke="#231f20" stroke-width="1"/>
<line x1="349.7" y1="536.82" x2="352.7" y2="536.82" stroke="#231f20" stroke-width="1"/>
<line x1="349.7" y1="521.08" x2="352.7" y2="521.08" stroke="#231f20" stroke-width="1"/>
<line x1="349.7" y1="513.21" x2="352.7" y2="513.21" stroke="#231f20" stroke-width="1"/>
<line x1="349.7" y1="505.34" x2="352.7" y2="505.34" stroke="#231f20" stroke-width="1"/>
<line x1="349.7" y1="497.47" x2="352.7" y2="497.47" stroke="#231f20" stroke-width="1"/>
<line x1="349.7" y1="489.6" x2="352.7" y2="489.6" stroke="#231f20" stroke-width="1"/>
<text x="345.8" y="492.3" font-size="8.4" stroke="#231f20" stroke-width="0.12" text-anchor="end" textLength="4" lengthAdjust="spacingAndGlyphs">1</text>
<line x1="349.7" y1="528.95" x2="352.7" y2="528.95" stroke="#231f20" stroke-width="1"/>
<text x="345.8" y="531.65" font-size="8.4" stroke="#231f20" stroke-width="0.12" text-anchor="end" textLength="9.9" lengthAdjust="spacingAndGlyphs">0.5</text>
<line x1="349.7" y1="568.3" x2="352.7" y2="568.3" stroke="#231f20" stroke-width="1"/>
<text x="345.8" y="571" font-size="8.4" stroke="#231f20" stroke-width="0.12" text-anchor="end" textLength="4" lengthAdjust="spacingAndGlyphs">0</text>
<line x1="352.7" y1="568.3" x2="352.7" y2="571.1" stroke="#231f20" stroke-width="0.9"/>
<line x1="372.3" y1="568.3" x2="372.3" y2="571.1" stroke="#231f20" stroke-width="0.9"/>
<line x1="391.7" y1="568.3" x2="391.7" y2="571.1" stroke="#231f20" stroke-width="0.9"/>
<line x1="410.9" y1="568.3" x2="410.9" y2="571.1" stroke="#231f20" stroke-width="0.9"/>
<line x1="429.4" y1="568.3" x2="429.4" y2="571.1" stroke="#231f20" stroke-width="0.9"/>
<rect x="376.2" y="556.5" width="5.3" height="11.8" fill="#4a6285"/>
<line x1="378.85" y1="556.5" x2="378.85" y2="555.8" stroke="#231f20" stroke-width="0.9"/>
<line x1="377.55" y1="555.8" x2="380.15" y2="555.8" stroke="#231f20" stroke-width="0.9"/>
<rect x="381.9" y="566.2" width="5.4" height="2.1" fill="#a33444"/>
<line x1="384.6" y1="566.2" x2="384.6" y2="565.6" stroke="#231f20" stroke-width="0.9"/>
<line x1="383.3" y1="565.6" x2="385.9" y2="565.6" stroke="#231f20" stroke-width="0.9"/>
<rect x="395.4" y="562.3" width="5.4" height="6" fill="#4a6285"/>
<line x1="398.1" y1="562.3" x2="398.1" y2="561.6" stroke="#231f20" stroke-width="0.9"/>
<line x1="396.8" y1="561.6" x2="399.4" y2="561.6" stroke="#231f20" stroke-width="0.9"/>
<rect x="401.2" y="551.5" width="5.3" height="16.8" fill="#a33444"/>
<line x1="403.85" y1="551.5" x2="403.85" y2="550.8" stroke="#231f20" stroke-width="0.9"/>
<line x1="402.55" y1="550.8" x2="405.15" y2="550.8" stroke="#231f20" stroke-width="0.9"/>
<rect x="414.6" y="535.8" width="5.4" height="32.5" fill="#4a6285"/>
<line x1="417.3" y1="535.8" x2="417.3" y2="535.1" stroke="#231f20" stroke-width="0.9"/>
<line x1="416" y1="535.1" x2="418.6" y2="535.1" stroke="#231f20" stroke-width="0.9"/>
<rect x="420.4" y="498.8" width="5.4" height="69.5" fill="#a33444"/>
<line x1="423.1" y1="498.8" x2="423.1" y2="498.1" stroke="#231f20" stroke-width="0.9"/>
<line x1="421.8" y1="498.1" x2="424.4" y2="498.1" stroke="#231f20" stroke-width="0.9"/>
<text x="385.8" y="567" font-size="7" stroke="#231f20" stroke-width="0.12" text-anchor="middle">*</text>
<text x="403.3" y="551.6" font-size="7" stroke="#231f20" stroke-width="0.12" text-anchor="middle" textLength="9.4" lengthAdjust="spacingAndGlyphs">***</text>
<text x="422.5" y="498.3" font-size="7" stroke="#231f20" stroke-width="0.12" text-anchor="middle" textLength="9.4" lengthAdjust="spacingAndGlyphs">***</text>
<line x1="449.8" y1="490.6" x2="449.8" y2="568.8" stroke="#231f20" stroke-width="1.1"/>
<line x1="449.3" y1="568.3" x2="511.3" y2="568.3" stroke="#231f20" stroke-width="1.1"/>
<line x1="446.8" y1="552.76" x2="449.8" y2="552.76" stroke="#231f20" stroke-width="1"/>
<line x1="446.8" y1="521.68" x2="449.8" y2="521.68" stroke="#231f20" stroke-width="1"/>
<line x1="446.8" y1="490.6" x2="449.8" y2="490.6" stroke="#231f20" stroke-width="1"/>
<line x1="446.8" y1="506.14" x2="449.8" y2="506.14" stroke="#231f20" stroke-width="1"/>
<text x="444.3" y="508.84" font-size="8.4" stroke="#231f20" stroke-width="0.12" text-anchor="end" textLength="8" lengthAdjust="spacingAndGlyphs">20</text>
<line x1="446.8" y1="537.22" x2="449.8" y2="537.22" stroke="#231f20" stroke-width="1"/>
<text x="444.3" y="539.92" font-size="8.4" stroke="#231f20" stroke-width="0.12" text-anchor="end" textLength="8" lengthAdjust="spacingAndGlyphs">10</text>
<line x1="446.8" y1="568.3" x2="449.8" y2="568.3" stroke="#231f20" stroke-width="1"/>
<text x="444.3" y="571" font-size="8.4" stroke="#231f20" stroke-width="0.12" text-anchor="end" textLength="4" lengthAdjust="spacingAndGlyphs">0</text>
<line x1="449.8" y1="568.3" x2="449.8" y2="571.1" stroke="#231f20" stroke-width="0.9"/>
<line x1="469.6" y1="568.3" x2="469.6" y2="571.1" stroke="#231f20" stroke-width="0.9"/>
<line x1="489.2" y1="568.3" x2="489.2" y2="571.1" stroke="#231f20" stroke-width="0.9"/>
<line x1="511" y1="568.3" x2="511" y2="571.1" stroke="#231f20" stroke-width="0.9"/>
<rect x="454.2" y="563.1" width="5.2" height="5.2" fill="#4a6285"/>
<line x1="456.8" y1="563.1" x2="456.8" y2="562.4" stroke="#231f20" stroke-width="0.9"/>
<line x1="455.5" y1="562.4" x2="458.1" y2="562.4" stroke="#231f20" stroke-width="0.9"/>
<rect x="460" y="558.5" width="5.2" height="9.8" fill="#a33444"/>
<line x1="462.6" y1="558.5" x2="462.6" y2="557.8" stroke="#231f20" stroke-width="0.9"/>
<line x1="461.3" y1="557.8" x2="463.9" y2="557.8" stroke="#231f20" stroke-width="0.9"/>
<rect x="473.5" y="510.4" width="5.3" height="57.9" fill="#4a6285"/>
<line x1="476.15" y1="510.4" x2="476.15" y2="506.5" stroke="#231f20" stroke-width="0.9"/>
<line x1="474.85" y1="506.5" x2="477.45" y2="506.5" stroke="#231f20" stroke-width="0.9"/>
<rect x="479.2" y="506" width="5.2" height="62.3" fill="#a33444"/>
<line x1="481.8" y1="506" x2="481.8" y2="503.5" stroke="#231f20" stroke-width="0.9"/>
<line x1="480.5" y1="503.5" x2="483.1" y2="503.5" stroke="#231f20" stroke-width="0.9"/>
<text x="462.6" y="558.9" font-size="7" stroke="#231f20" stroke-width="0.12" text-anchor="middle" textLength="9.4" lengthAdjust="spacingAndGlyphs">***</text>
<text x="482" y="501.2" font-size="7" stroke="#231f20" stroke-width="0.12" text-anchor="middle">n.s.</text>
<text transform="translate(366.2,578.3) rotate(-45)" font-size="8" stroke="#231f20" stroke-width="0.12" text-anchor="end" textLength="9.6" lengthAdjust="spacingAndGlyphs">IgG</text>
<text transform="translate(385.8,578.3) rotate(-45)" font-size="8" stroke="#231f20" stroke-width="0.12" text-anchor="end" textLength="57.7" lengthAdjust="spacingAndGlyphs">RUNX1-RUNX1T1</text>
<text transform="translate(405,577.8) rotate(-45)" font-size="8" stroke="#231f20" stroke-width="0.12" text-anchor="end" textLength="18.1" lengthAdjust="spacingAndGlyphs">GCN5</text>
<text transform="translate(424.2,577.8) rotate(-45)" font-size="8" stroke="#231f20" stroke-width="0.12" text-anchor="end" textLength="12.9" lengthAdjust="spacingAndGlyphs">HEB</text>
<text transform="translate(462.9,578) rotate(-45)" font-size="8" stroke="#231f20" stroke-width="0.12" text-anchor="end" textLength="23.3" lengthAdjust="spacingAndGlyphs">acH3K9</text>
<text transform="translate(482.5,578) rotate(-45)" font-size="8" stroke="#231f20" stroke-width="0.12" text-anchor="end" textLength="27.7" lengthAdjust="spacingAndGlyphs">acH3K18</text>
<text transform="translate(502.8,578) rotate(-45)" font-size="8" stroke="#231f20" stroke-width="0.12" text-anchor="end" textLength="32.2" lengthAdjust="spacingAndGlyphs">H3K9Me2</text>
<line x1="357.4" y1="473.7" x2="366.8" y2="473.7" stroke="#333" stroke-width="0.9"/>
<line x1="492.8" y1="473.7" x2="502.8" y2="473.7" stroke="#333" stroke-width="0.9"/>
<line x1="357.4" y1="567.6" x2="366.8" y2="567.6" stroke="#333" stroke-width="0.9"/>
<line x1="492.6" y1="567.5" x2="503.8" y2="567.5" stroke="#333" stroke-width="0.9"/>
<text transform="translate(27.6,654.3) rotate(-90)" font-size="9.2" stroke="#231f20" stroke-width="0.12" text-anchor="middle" textLength="151" lengthAdjust="spacingAndGlyphs">CBFA2T3 mRNA expression / GAPDH</text>
<text x="20.6" y="587" font-size="11.4" stroke="#231f20" stroke-width="0.05" textLength="7.4" lengthAdjust="spacingAndGlyphs">G</text>
<line x1="60" y1="605.8" x2="60" y2="705.1" stroke="#231f20" stroke-width="1.1"/>
<line x1="57.6" y1="704.6" x2="185.5" y2="704.6" stroke="#231f20" stroke-width="1.1"/>
<line x1="57.4" y1="704.6" x2="60" y2="704.6" stroke="#231f20" stroke-width="1"/>
<line x1="58" y1="694.95" x2="60" y2="694.95" stroke="#231f20" stroke-width="1"/>
<line x1="58" y1="685.3" x2="60" y2="685.3" stroke="#231f20" stroke-width="1"/>
<line x1="58" y1="675.65" x2="60" y2="675.65" stroke="#231f20" stroke-width="1"/>
<line x1="58" y1="666" x2="60" y2="666" stroke="#231f20" stroke-width="1"/>
<line x1="57.4" y1="656.35" x2="60" y2="656.35" stroke="#231f20" stroke-width="1"/>
<line x1="58" y1="646.7" x2="60" y2="646.7" stroke="#231f20" stroke-width="1"/>
<line x1="58" y1="637.05" x2="60" y2="637.05" stroke="#231f20" stroke-width="1"/>
<line x1="58" y1="627.4" x2="60" y2="627.4" stroke="#231f20" stroke-width="1"/>
<line x1="58" y1="617.75" x2="60" y2="617.75" stroke="#231f20" stroke-width="1"/>
<line x1="57.4" y1="608.1" x2="60" y2="608.1" stroke="#231f20" stroke-width="1"/>
<text x="45.2" y="611.1" font-size="7.6" stroke="#231f20" stroke-width="0.06" text-anchor="middle" textLength="19.2" lengthAdjust="spacingAndGlyphs">0.010</text>
<text x="45.2" y="659.35" font-size="7.6" stroke="#231f20" stroke-width="0.06" text-anchor="middle" textLength="19.2" lengthAdjust="spacingAndGlyphs">0.005</text>
<text x="45.2" y="707.6" font-size="7.6" stroke="#231f20" stroke-width="0.06" text-anchor="middle" textLength="19.2" lengthAdjust="spacingAndGlyphs">0.000</text>
<rect x="78.9" y="646.4" width="14.9" height="58.2" fill="#4a6285"/>
<line x1="86.35" y1="646.4" x2="86.35" y2="642.3" stroke="#231f20" stroke-width="0.9"/>
<line x1="84.85" y1="642.3" x2="87.85" y2="642.3" stroke="#231f20" stroke-width="0.9"/>
<rect x="96.1" y="675.1" width="15" height="29.5" fill="#a33444"/>
<line x1="103.6" y1="675.1" x2="103.6" y2="674.4" stroke="#231f20" stroke-width="0.9"/>
<line x1="102.1" y1="674.4" x2="105.1" y2="674.4" stroke="#231f20" stroke-width="0.9"/>
<rect x="141.1" y="619.8" width="14.9" height="84.8" fill="#4a6285"/>
<line x1="148.55" y1="619.8" x2="148.55" y2="618.4" stroke="#231f20" stroke-width="0.9"/>
<line x1="147.05" y1="618.4" x2="150.05" y2="618.4" stroke="#231f20" stroke-width="0.9"/>
<rect x="158.5" y="667" width="15.4" height="37.6" fill="#a33444"/>
<line x1="166.2" y1="667" x2="166.2" y2="663.8" stroke="#231f20" stroke-width="0.9"/>
<line x1="164.7" y1="663.8" x2="167.7" y2="663.8" stroke="#231f20" stroke-width="0.9"/>
<path d="M82.2,639 L82.2,600.2 L148.6,600.2" fill="none" stroke="#231f20" stroke-width="1.0"/>
<path d="M103.7,671.2 L103.7,607.0 L149.0,607.0" fill="none" stroke="#231f20" stroke-width="1.0"/>
<path d="M108.1,671.2 L108.1,615.5 L165.7,615.5 L165.7,657.4" fill="none" stroke="#231f20" stroke-width="1.0"/>
<path d="M86.3,637.1 L99.1,637.1 L99.1,671.2" fill="none" stroke="#231f20" stroke-width="1.0"/>
<text x="115.4" y="600.8" font-size="7" stroke="#231f20" stroke-width="0.12" text-anchor="middle" textLength="6" lengthAdjust="spacingAndGlyphs">**</text>
<text x="126.5" y="607.2" font-size="7" stroke="#231f20" stroke-width="0.12" text-anchor="middle" textLength="6" lengthAdjust="spacingAndGlyphs">**</text>
<text x="137.15" y="613.5" font-size="7.2" stroke="#231f20" stroke-width="0.12" text-anchor="middle" textLength="8.5" lengthAdjust="spacingAndGlyphs">n.s</text>
<text x="91.6" y="637" font-size="7" stroke="#231f20" stroke-width="0.12" text-anchor="middle" textLength="6" lengthAdjust="spacingAndGlyphs">**</text>
<text x="94" y="715.2" font-size="7.6" stroke="#231f20" stroke-width="0.12" text-anchor="middle" textLength="34.6" lengthAdjust="spacingAndGlyphs">shControl</text>
<text x="160.85" y="715.3" font-size="7.6" stroke="#231f20" stroke-width="0.12" text-anchor="middle" textLength="66.9" lengthAdjust="spacingAndGlyphs">shRUNX1-RUNX1T1</text>
<rect x="180" y="610.6" width="7.9" height="5.6" fill="#4a6285"/>
<rect x="180" y="622.2" width="7.9" height="5.7" fill="#a33444"/>
<text x="200.85" y="616.1" font-size="7.2" stroke="#231f20" stroke-width="0.12" text-anchor="middle" textLength="20.9" lengthAdjust="spacingAndGlyphs">DMSO</text>
<text x="201.1" y="627.7" font-size="7.2" stroke="#231f20" stroke-width="0.12" text-anchor="middle" textLength="21.4" lengthAdjust="spacingAndGlyphs">CPTH2</text>
<rect x="0" y="0" width="520" height="1" fill="#000"/>
<rect x="0" y="0" width="1" height="724.5" fill="#000"/>
<rect x="518.3" y="0" width="1.7" height="724.6" fill="#3a3a3a"/>
<rect x="0" y="723.3" width="519" height="1.3" fill="#262626"/>
</svg>
</body></html>
